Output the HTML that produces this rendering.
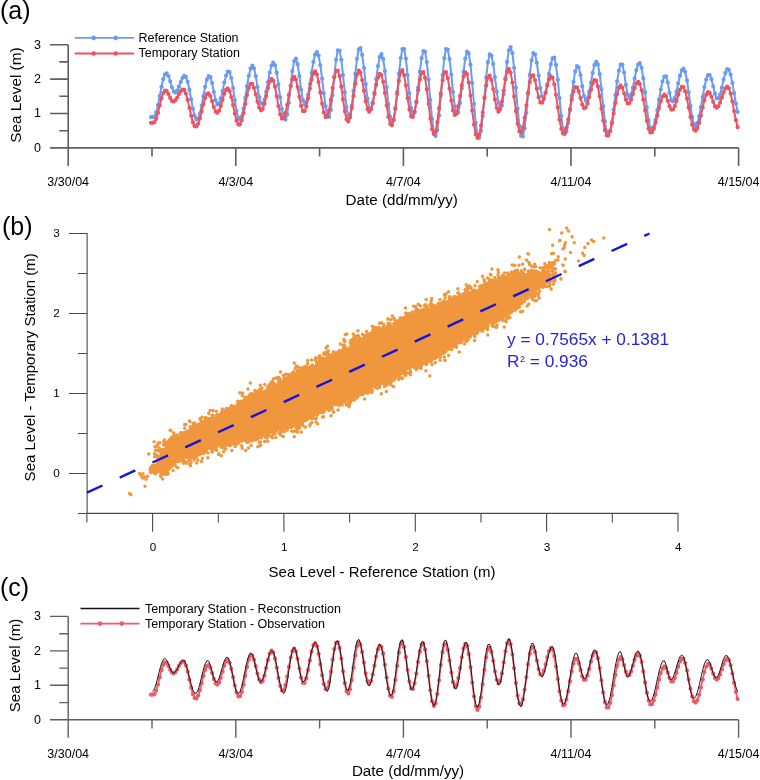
<!DOCTYPE html>
<html><head><meta charset="utf-8"><title>Sea level figure</title>
<style>html,body{margin:0;padding:0;background:#fff;overflow:hidden;}svg{display:block;font-family:"Liberation Sans",sans-serif;filter:blur(0.3px);}</style>
</head><body>
<svg width="760" height="780" viewBox="0 0 760 780" font-family="Liberation Sans, sans-serif">
<rect width="760" height="780" fill="#ffffff"/>
<text x="0" y="19.4" font-size="25" text-anchor="start" fill="#000000">(a)</text>
<path d="M68.2 44.7 V147.9 M50 147.9 H68.2 M50 113.5 H68.2 M50 79.1 H68.2 M50 44.7 H68.2 M59.3 130.7 H68.2 M59.3 96.3 H68.2 M59.3 61.9 H68.2 M68.2 147.9 H738.6 M68.2 147.9 V165.9 M152 147.9 V156.6 M235.8 147.9 V165.9 M319.6 147.9 V156.6 M403.4 147.9 V165.9 M487.2 147.9 V156.6 M571 147.9 V165.9 M654.8 147.9 V156.6 M738.6 147.9 V165.9" stroke="#5f5f5f" stroke-width="1.6" fill="none"/>
<text x="40.9" y="151.8" font-size="12.5" text-anchor="end" fill="#000000">0</text>
<text x="40.9" y="117.4" font-size="12.5" text-anchor="end" fill="#000000">1</text>
<text x="40.9" y="83" font-size="12.5" text-anchor="end" fill="#000000">2</text>
<text x="40.9" y="48.6" font-size="12.5" text-anchor="end" fill="#000000">3</text>
<text x="68.2" y="186.2" font-size="12.5" text-anchor="middle" fill="#000000">3/30/04</text>
<text x="235.8" y="186.2" font-size="12.5" text-anchor="middle" fill="#000000">4/3/04</text>
<text x="403.4" y="186.2" font-size="12.5" text-anchor="middle" fill="#000000">4/7/04</text>
<text x="571" y="186.2" font-size="12.5" text-anchor="middle" fill="#000000">4/11/04</text>
<text x="738.6" y="186.2" font-size="12.5" text-anchor="middle" fill="#000000">4/15/04</text>
<text x="0" y="0" font-size="15.3" text-anchor="middle" fill="#000000" transform="translate(21.3 95.1) rotate(-90)">Sea Level (m)</text>
<text x="345.6" y="204.7" font-size="15.2" text-anchor="start" fill="#000000">Date (dd/mm/yy)</text>
<path d="M151 117.2 152.7 117.2 154.5 116.6 156.2 112.4 158 105.2 159.7 96.1 161.5 86.9 163.2 79.2 165 74.4 166.7 73.3 168.5 76 170.2 81.3 171.9 87.3 173.7 91.5 175.4 92.5 177.2 90.6 178.9 86.7 180.7 82 182.4 78 184.2 75.9 185.9 76.8 187.7 81.8 189.4 89.8 191.2 99.4 192.9 108.7 194.6 115.8 196.4 119.3 198.1 118.7 199.9 113.8 201.6 105.8 203.4 96.2 205.1 86.8 206.9 79.6 208.6 76.1 210.4 77.1 212.1 83.1 213.8 92 215.6 100.1 217.3 104.3 219.1 103.3 220.8 98.4 222.6 90.9 224.3 82.6 226.1 75.6 227.8 71.7 229.6 72.2 231.3 78.1 233.1 88.1 234.8 100 236.5 110.8 238.3 117.9 240 119.7 241.8 116.3 243.5 108.5 245.3 97.9 247 86.3 248.8 75.9 250.5 68.6 252.3 65.7 254 68.3 255.8 76.2 257.5 87 259.2 97.1 261 103.4 262.7 104.1 264.5 99.8 266.2 91.8 268 82 269.7 72.5 271.5 65.5 273.2 62.6 275 65 276.7 72.7 278.4 84.4 280.2 97.4 281.9 109.1 283.7 117 285.4 119.6 287.2 114.6 288.9 102.5 290.7 86.5 292.4 71.2 294.2 61 295.9 58.6 297.6 64.3 299.4 76 301.1 89.5 302.9 100.2 304.6 104.5 306.4 102 308.1 94.8 309.9 84.2 311.6 72.5 313.4 61.9 315.1 54.6 316.9 52.1 318.6 55.6 320.3 65.1 322.1 78.6 323.8 93.3 325.6 106.2 327.3 114.6 329.1 116.9 330.8 110.1 332.6 95.1 334.3 76.5 336.1 59.8 337.8 50.3 339.6 50.6 341.3 59.7 343 75 344.8 92.4 346.5 107.1 348.3 115.2 350 114.5 351.8 105.7 353.5 90.9 355.3 73.9 357 58.8 358.8 49.4 360.5 48.1 362.2 54.9 364 68.1 365.7 84.1 367.5 98.6 369.2 107.8 371 109.3 372.7 103.7 374.5 92.7 376.2 79.1 378 66.1 379.7 57.1 381.4 54.2 383.2 59.1 384.9 71.2 386.7 87.5 388.4 104.1 390.2 116.9 391.9 122.8 393.7 120.2 395.4 109.1 397.2 92.2 398.9 73.8 400.7 58.1 402.4 49.1 404.1 49.1 405.9 58.6 407.6 75 409.4 93.3 411.1 108 412.9 114.8 414.6 112.3 416.4 102.4 418.1 87.6 419.9 71.5 421.6 58.2 423.4 51 425.1 51.8 426.8 62.1 428.6 79.5 430.3 100.1 432.1 119.1 433.8 132 435.6 136.1 437.3 130.1 439.1 115.6 440.8 95.7 442.6 75 444.3 58.2 446 49.1 447.8 49.7 449.5 59.1 451.3 74.6 453 91.9 454.8 106.3 456.5 113.8 458.3 112.4 460 103.1 461.8 88.3 463.5 72.1 465.2 58.7 467 51.7 468.7 53.4 470.5 64.7 472.2 83 474 104 475.7 122.8 477.5 135 479.2 137.7 481 130.9 482.7 116.2 484.5 97 486.2 77.6 487.9 62.2 489.7 54.4 491.4 55.5 493.2 63.9 494.9 77.2 496.7 91.5 498.4 103 500.2 108.3 501.9 105.4 503.7 94.2 505.4 78.1 507.1 61.9 508.9 50.3 510.6 47 512.4 53.2 514.1 67.8 515.9 87.7 517.6 108.5 519.4 125.8 521.1 135.8 522.9 136.5 524.6 128.3 526.4 113 528.1 93.8 529.8 74.9 531.6 60.3 533.3 53 535.1 54.3 536.8 62.7 538.6 75.4 540.3 88 542.1 96.3 543.8 97.6 545.6 93 547.3 84.4 549 73.9 550.8 64.3 552.5 58.3 554.3 57.6 556 65.1 557.8 79.7 559.5 98 561.3 115.8 563 128.9 564.8 134.1 566.5 131.4 568.3 123 570 110.3 571.7 95.7 573.5 81.9 575.2 71.4 577 66.1 578.7 67.3 580.5 75 582.2 86.2 584 96 585.7 100.5 587.5 98.5 589.2 91.9 591 82.5 592.7 72.8 594.4 65.2 596.2 61.8 597.9 64.4 599.7 74.2 601.4 89.2 603.2 106.2 604.9 121.4 606.7 131.6 608.4 134.7 610.2 131 611.9 122.2 613.6 109.5 615.4 95.1 617.1 81.4 618.9 70.7 620.6 64.6 622.4 64.6 624.1 72.6 625.9 84.9 627.6 95 629.4 97.8 631.1 94.6 632.9 87.5 634.6 78.6 636.3 70.2 638.1 64.5 639.8 63.1 641.6 67.8 643.3 78.2 645.1 92.4 646.8 107.4 648.6 120.2 650.3 128.2 652.1 130 653.8 126.8 655.5 119.9 657.3 110.3 659 99.6 660.8 89.5 662.5 81.4 664.3 76.7 666 76.3 667.8 82.6 669.5 92.7 671.3 100.4 673 101.5 674.8 98 676.5 91.4 678.2 83.3 680 75.7 681.7 70.3 683.5 68.5 685.2 71.8 687 80.4 688.7 92.5 690.5 105.7 692.2 117.1 694 124.4 695.7 126.1 697.4 123.1 699.2 116.4 700.9 107.2 702.7 96.9 704.4 87.1 706.2 79.5 707.9 75.2 709.7 75 711.4 79.2 713.2 86.3 714.9 93.6 716.6 98.2 718.4 98.5 720.1 94.5 721.9 87.6 723.6 79.6 725.4 72.9 727.1 69.2 728.9 69.8 730.6 74.6 732.4 82.9 734.1 93.2 735.9 103.5 737.6 111.9" stroke="#6a9bf4" stroke-width="2.0" fill="none" stroke-linejoin="round"/>
<path d="M151 117.2h0M152.7 117.2h0M154.5 116.6h0M156.2 112.4h0M158 105.2h0M159.7 96.1h0M161.5 86.9h0M163.2 79.2h0M165 74.4h0M166.7 73.3h0M168.5 76h0M170.2 81.3h0M171.9 87.3h0M173.7 91.5h0M175.4 92.5h0M177.2 90.6h0M178.9 86.7h0M180.7 82h0M182.4 78h0M184.2 75.9h0M185.9 76.8h0M187.7 81.8h0M189.4 89.8h0M191.2 99.4h0M192.9 108.7h0M194.6 115.8h0M196.4 119.3h0M198.1 118.7h0M199.9 113.8h0M201.6 105.8h0M203.4 96.2h0M205.1 86.8h0M206.9 79.6h0M208.6 76.1h0M210.4 77.1h0M212.1 83.1h0M213.8 92h0M215.6 100.1h0M217.3 104.3h0M219.1 103.3h0M220.8 98.4h0M222.6 90.9h0M224.3 82.6h0M226.1 75.6h0M227.8 71.7h0M229.6 72.2h0M231.3 78.1h0M233.1 88.1h0M234.8 100h0M236.5 110.8h0M238.3 117.9h0M240 119.7h0M241.8 116.3h0M243.5 108.5h0M245.3 97.9h0M247 86.3h0M248.8 75.9h0M250.5 68.6h0M252.3 65.7h0M254 68.3h0M255.8 76.2h0M257.5 87h0M259.2 97.1h0M261 103.4h0M262.7 104.1h0M264.5 99.8h0M266.2 91.8h0M268 82h0M269.7 72.5h0M271.5 65.5h0M273.2 62.6h0M275 65h0M276.7 72.7h0M278.4 84.4h0M280.2 97.4h0M281.9 109.1h0M283.7 117h0M285.4 119.6h0M287.2 114.6h0M288.9 102.5h0M290.7 86.5h0M292.4 71.2h0M294.2 61h0M295.9 58.6h0M297.6 64.3h0M299.4 76h0M301.1 89.5h0M302.9 100.2h0M304.6 104.5h0M306.4 102h0M308.1 94.8h0M309.9 84.2h0M311.6 72.5h0M313.4 61.9h0M315.1 54.6h0M316.9 52.1h0M318.6 55.6h0M320.3 65.1h0M322.1 78.6h0M323.8 93.3h0M325.6 106.2h0M327.3 114.6h0M329.1 116.9h0M330.8 110.1h0M332.6 95.1h0M334.3 76.5h0M336.1 59.8h0M337.8 50.3h0M339.6 50.6h0M341.3 59.7h0M343 75h0M344.8 92.4h0M346.5 107.1h0M348.3 115.2h0M350 114.5h0M351.8 105.7h0M353.5 90.9h0M355.3 73.9h0M357 58.8h0M358.8 49.4h0M360.5 48.1h0M362.2 54.9h0M364 68.1h0M365.7 84.1h0M367.5 98.6h0M369.2 107.8h0M371 109.3h0M372.7 103.7h0M374.5 92.7h0M376.2 79.1h0M378 66.1h0M379.7 57.1h0M381.4 54.2h0M383.2 59.1h0M384.9 71.2h0M386.7 87.5h0M388.4 104.1h0M390.2 116.9h0M391.9 122.8h0M393.7 120.2h0M395.4 109.1h0M397.2 92.2h0M398.9 73.8h0M400.7 58.1h0M402.4 49.1h0M404.1 49.1h0M405.9 58.6h0M407.6 75h0M409.4 93.3h0M411.1 108h0M412.9 114.8h0M414.6 112.3h0M416.4 102.4h0M418.1 87.6h0M419.9 71.5h0M421.6 58.2h0M423.4 51h0M425.1 51.8h0M426.8 62.1h0M428.6 79.5h0M430.3 100.1h0M432.1 119.1h0M433.8 132h0M435.6 136.1h0M437.3 130.1h0M439.1 115.6h0M440.8 95.7h0M442.6 75h0M444.3 58.2h0M446 49.1h0M447.8 49.7h0M449.5 59.1h0M451.3 74.6h0M453 91.9h0M454.8 106.3h0M456.5 113.8h0M458.3 112.4h0M460 103.1h0M461.8 88.3h0M463.5 72.1h0M465.2 58.7h0M467 51.7h0M468.7 53.4h0M470.5 64.7h0M472.2 83h0M474 104h0M475.7 122.8h0M477.5 135h0M479.2 137.7h0M481 130.9h0M482.7 116.2h0M484.5 97h0M486.2 77.6h0M487.9 62.2h0M489.7 54.4h0M491.4 55.5h0M493.2 63.9h0M494.9 77.2h0M496.7 91.5h0M498.4 103h0M500.2 108.3h0M501.9 105.4h0M503.7 94.2h0M505.4 78.1h0M507.1 61.9h0M508.9 50.3h0M510.6 47h0M512.4 53.2h0M514.1 67.8h0M515.9 87.7h0M517.6 108.5h0M519.4 125.8h0M521.1 135.8h0M522.9 136.5h0M524.6 128.3h0M526.4 113h0M528.1 93.8h0M529.8 74.9h0M531.6 60.3h0M533.3 53h0M535.1 54.3h0M536.8 62.7h0M538.6 75.4h0M540.3 88h0M542.1 96.3h0M543.8 97.6h0M545.6 93h0M547.3 84.4h0M549 73.9h0M550.8 64.3h0M552.5 58.3h0M554.3 57.6h0M556 65.1h0M557.8 79.7h0M559.5 98h0M561.3 115.8h0M563 128.9h0M564.8 134.1h0M566.5 131.4h0M568.3 123h0M570 110.3h0M571.7 95.7h0M573.5 81.9h0M575.2 71.4h0M577 66.1h0M578.7 67.3h0M580.5 75h0M582.2 86.2h0M584 96h0M585.7 100.5h0M587.5 98.5h0M589.2 91.9h0M591 82.5h0M592.7 72.8h0M594.4 65.2h0M596.2 61.8h0M597.9 64.4h0M599.7 74.2h0M601.4 89.2h0M603.2 106.2h0M604.9 121.4h0M606.7 131.6h0M608.4 134.7h0M610.2 131h0M611.9 122.2h0M613.6 109.5h0M615.4 95.1h0M617.1 81.4h0M618.9 70.7h0M620.6 64.6h0M622.4 64.6h0M624.1 72.6h0M625.9 84.9h0M627.6 95h0M629.4 97.8h0M631.1 94.6h0M632.9 87.5h0M634.6 78.6h0M636.3 70.2h0M638.1 64.5h0M639.8 63.1h0M641.6 67.8h0M643.3 78.2h0M645.1 92.4h0M646.8 107.4h0M648.6 120.2h0M650.3 128.2h0M652.1 130h0M653.8 126.8h0M655.5 119.9h0M657.3 110.3h0M659 99.6h0M660.8 89.5h0M662.5 81.4h0M664.3 76.7h0M666 76.3h0M667.8 82.6h0M669.5 92.7h0M671.3 100.4h0M673 101.5h0M674.8 98h0M676.5 91.4h0M678.2 83.3h0M680 75.7h0M681.7 70.3h0M683.5 68.5h0M685.2 71.8h0M687 80.4h0M688.7 92.5h0M690.5 105.7h0M692.2 117.1h0M694 124.4h0M695.7 126.1h0M697.4 123.1h0M699.2 116.4h0M700.9 107.2h0M702.7 96.9h0M704.4 87.1h0M706.2 79.5h0M707.9 75.2h0M709.7 75h0M711.4 79.2h0M713.2 86.3h0M714.9 93.6h0M716.6 98.2h0M718.4 98.5h0M720.1 94.5h0M721.9 87.6h0M723.6 79.6h0M725.4 72.9h0M727.1 69.2h0M728.9 69.8h0M730.6 74.6h0M732.4 82.9h0M734.1 93.2h0M735.9 103.5h0M737.6 111.9h0" stroke="#6a9bf4" stroke-width="4.2" stroke-linecap="round" fill="none"/>
<path d="M151 122.8 152.7 122.8 154.5 122.2 156.2 118.8 158 112.7 159.7 105.4 161.5 98.3 163.2 93 165 90.5 166.7 91.1 168.5 94.1 170.2 97.9 171.9 100.8 173.7 101.6 175.4 100.2 177.2 97.5 178.9 94.1 180.7 91.2 182.4 89.5 184.2 89.9 185.9 93.5 187.7 99.9 189.4 107.9 191.2 115.8 192.9 122.3 194.6 126.1 196.4 126.5 198.1 123.8 199.9 118.4 201.6 111.4 203.4 104.2 205.1 98.1 206.9 94.2 208.6 93.4 210.4 96 212.1 101.2 213.8 107.1 215.6 111.5 217.3 112.8 219.1 110.7 220.8 105.9 222.6 99.8 224.3 93.8 226.1 89.7 227.8 88.4 229.6 91 231.3 97 233.1 105.2 234.8 113.7 236.5 120.6 238.3 124.5 240 124.3 241.8 120.2 243.5 113 245.3 104 247 95.1 248.8 87.9 250.5 83.9 252.3 83.9 254 87.8 255.8 94.3 257.5 101.7 259.2 107.6 261 110.3 262.7 109 264.5 103.8 266.2 96.1 268 88.1 269.7 81.8 271.5 78.9 273.2 80.5 275 86.7 276.7 96 278.4 106 280.2 114.3 281.9 118.6 283.7 118.1 285.4 113.1 287.2 104.8 288.9 94.9 290.7 85.7 292.4 79.2 294.2 76.8 295.9 79.5 297.6 87 299.4 96.8 301.1 105.8 302.9 111.1 304.6 111 306.4 106.4 308.1 98.2 309.9 88.6 311.6 79.6 313.4 73.4 315.1 71.3 316.9 74.3 318.6 82 320.3 92.5 322.1 103.5 323.8 112.4 325.6 117.1 327.3 116.5 329.1 110.3 330.8 99.8 332.6 87.9 334.3 77.4 336.1 71.1 337.8 70.5 339.6 76.2 341.3 86.7 343 99.4 344.8 111.3 346.5 119.3 348.3 121.5 350 117.4 351.8 108.2 353.5 95.9 355.3 83.7 357 74.5 358.8 70.6 360.5 72.7 362.2 80.1 364 90.7 365.7 101.4 367.5 109.1 369.2 111.7 371 109.1 372.7 102.7 374.5 93.9 376.2 84.8 378 77.6 379.7 73.9 381.4 75 383.2 81.8 384.9 93 386.7 105.6 388.4 116.9 390.2 124 391.9 125.2 393.7 119.4 395.4 108.1 397.2 94 398.9 80.9 400.7 72.2 402.4 70.2 404.1 75.1 405.9 85.4 407.6 98.1 409.4 109.6 411.1 116.5 412.9 117 414.6 111.6 416.4 101.8 418.1 90.2 419.9 79.7 421.6 73 423.4 72 425.1 77.8 426.8 89.3 428.6 104 430.3 118.5 432.1 129.3 433.8 134 435.6 131.5 437.3 122.2 439.1 108.4 440.8 93.3 442.6 80.4 444.3 72.8 446 72.2 447.8 78.2 449.5 88.7 451.3 100.7 453 110.4 454.8 114.9 456.5 113.1 458.3 106.2 460 96.1 461.8 85.2 463.5 76.6 465.2 72.4 467 74.1 468.7 82.4 470.5 95.5 472.2 110.6 474 124.6 475.7 134.4 477.5 138 479.2 134.8 481 125.6 482.7 112.5 484.5 98.1 486.2 85.6 487.9 77.5 489.7 75.7 491.4 80 493.2 89 494.9 99.5 496.7 108 498.4 111.7 500.2 109.3 501.9 101.5 503.7 90.5 505.4 79.5 507.1 71.5 508.9 68.8 510.6 72.6 512.4 82.5 514.1 96.4 515.9 111.2 517.6 123.7 519.4 131.3 521.1 132.4 522.9 127.5 524.6 117.8 526.4 105.3 528.1 92.5 529.8 82 531.6 75.9 533.3 75.4 535.1 80.3 536.8 88.7 538.6 97.2 540.3 102.5 542.1 102.7 543.8 99 545.6 92.6 547.3 85.4 549 79.4 550.8 76.4 552.5 77.6 554.3 84.2 556 94.8 557.8 107.4 559.5 119.5 561.3 128.8 563 133.4 564.8 132.7 566.5 127.7 568.3 119.4 570 109.3 571.7 99.4 573.5 91.6 575.2 87.2 577 87.3 578.7 91.4 580.5 98.1 582.2 104.5 584 108.1 585.7 107.6 587.5 103.6 589.2 97 591 89.7 592.7 83.6 594.4 80.2 596.2 80.7 597.9 86.4 599.7 96.3 601.4 108.5 603.2 120.6 604.9 130.2 606.7 135.5 608.4 135.5 610.2 131.2 611.9 123.4 613.6 113.5 615.4 103.1 617.1 94 618.9 87.7 620.6 85.4 622.4 87.6 624.1 93.3 625.9 99.7 627.6 103.5 629.4 103.1 631.1 99.5 632.9 94 634.6 88.1 636.3 83.6 638.1 81.8 639.8 83.9 641.6 90.2 643.3 99.7 645.1 110.6 646.8 120.9 648.6 128.7 650.3 132.5 652.1 132.1 653.8 128.7 655.5 122.8 657.3 115.5 659 107.9 660.8 101.2 662.5 96.5 664.3 94.6 666 96.1 667.8 100.8 669.5 106.2 671.3 109.6 673 109.5 674.8 106.2 676.5 100.9 678.2 94.8 680 89.7 681.7 86.8 683.5 87.1 685.2 91.3 687 98.5 688.7 107.7 690.5 116.9 692.2 124.7 694 129.6 695.7 130.7 697.4 128.3 699.2 122.9 700.9 115.6 702.7 107.5 704.4 100.2 706.2 94.7 707.9 92.1 709.7 92.9 711.4 96.7 713.2 101.9 714.9 106.2 716.6 107.8 718.4 106.4 720.1 102.7 721.9 97.6 723.6 92.4 725.4 88.5 727.1 86.7 728.9 88.2 730.6 93.5 732.4 101.6 734.1 111.1 735.9 120.2 737.6 127.2" stroke="#ec5462" stroke-width="2.0" fill="none" stroke-linejoin="round"/>
<path d="M151 122.8h0M152.7 122.8h0M154.5 122.2h0M156.2 118.8h0M158 112.7h0M159.7 105.4h0M161.5 98.3h0M163.2 93h0M165 90.5h0M166.7 91.1h0M168.5 94.1h0M170.2 97.9h0M171.9 100.8h0M173.7 101.6h0M175.4 100.2h0M177.2 97.5h0M178.9 94.1h0M180.7 91.2h0M182.4 89.5h0M184.2 89.9h0M185.9 93.5h0M187.7 99.9h0M189.4 107.9h0M191.2 115.8h0M192.9 122.3h0M194.6 126.1h0M196.4 126.5h0M198.1 123.8h0M199.9 118.4h0M201.6 111.4h0M203.4 104.2h0M205.1 98.1h0M206.9 94.2h0M208.6 93.4h0M210.4 96h0M212.1 101.2h0M213.8 107.1h0M215.6 111.5h0M217.3 112.8h0M219.1 110.7h0M220.8 105.9h0M222.6 99.8h0M224.3 93.8h0M226.1 89.7h0M227.8 88.4h0M229.6 91h0M231.3 97h0M233.1 105.2h0M234.8 113.7h0M236.5 120.6h0M238.3 124.5h0M240 124.3h0M241.8 120.2h0M243.5 113h0M245.3 104h0M247 95.1h0M248.8 87.9h0M250.5 83.9h0M252.3 83.9h0M254 87.8h0M255.8 94.3h0M257.5 101.7h0M259.2 107.6h0M261 110.3h0M262.7 109h0M264.5 103.8h0M266.2 96.1h0M268 88.1h0M269.7 81.8h0M271.5 78.9h0M273.2 80.5h0M275 86.7h0M276.7 96h0M278.4 106h0M280.2 114.3h0M281.9 118.6h0M283.7 118.1h0M285.4 113.1h0M287.2 104.8h0M288.9 94.9h0M290.7 85.7h0M292.4 79.2h0M294.2 76.8h0M295.9 79.5h0M297.6 87h0M299.4 96.8h0M301.1 105.8h0M302.9 111.1h0M304.6 111h0M306.4 106.4h0M308.1 98.2h0M309.9 88.6h0M311.6 79.6h0M313.4 73.4h0M315.1 71.3h0M316.9 74.3h0M318.6 82h0M320.3 92.5h0M322.1 103.5h0M323.8 112.4h0M325.6 117.1h0M327.3 116.5h0M329.1 110.3h0M330.8 99.8h0M332.6 87.9h0M334.3 77.4h0M336.1 71.1h0M337.8 70.5h0M339.6 76.2h0M341.3 86.7h0M343 99.4h0M344.8 111.3h0M346.5 119.3h0M348.3 121.5h0M350 117.4h0M351.8 108.2h0M353.5 95.9h0M355.3 83.7h0M357 74.5h0M358.8 70.6h0M360.5 72.7h0M362.2 80.1h0M364 90.7h0M365.7 101.4h0M367.5 109.1h0M369.2 111.7h0M371 109.1h0M372.7 102.7h0M374.5 93.9h0M376.2 84.8h0M378 77.6h0M379.7 73.9h0M381.4 75h0M383.2 81.8h0M384.9 93h0M386.7 105.6h0M388.4 116.9h0M390.2 124h0M391.9 125.2h0M393.7 119.4h0M395.4 108.1h0M397.2 94h0M398.9 80.9h0M400.7 72.2h0M402.4 70.2h0M404.1 75.1h0M405.9 85.4h0M407.6 98.1h0M409.4 109.6h0M411.1 116.5h0M412.9 117h0M414.6 111.6h0M416.4 101.8h0M418.1 90.2h0M419.9 79.7h0M421.6 73h0M423.4 72h0M425.1 77.8h0M426.8 89.3h0M428.6 104h0M430.3 118.5h0M432.1 129.3h0M433.8 134h0M435.6 131.5h0M437.3 122.2h0M439.1 108.4h0M440.8 93.3h0M442.6 80.4h0M444.3 72.8h0M446 72.2h0M447.8 78.2h0M449.5 88.7h0M451.3 100.7h0M453 110.4h0M454.8 114.9h0M456.5 113.1h0M458.3 106.2h0M460 96.1h0M461.8 85.2h0M463.5 76.6h0M465.2 72.4h0M467 74.1h0M468.7 82.4h0M470.5 95.5h0M472.2 110.6h0M474 124.6h0M475.7 134.4h0M477.5 138h0M479.2 134.8h0M481 125.6h0M482.7 112.5h0M484.5 98.1h0M486.2 85.6h0M487.9 77.5h0M489.7 75.7h0M491.4 80h0M493.2 89h0M494.9 99.5h0M496.7 108h0M498.4 111.7h0M500.2 109.3h0M501.9 101.5h0M503.7 90.5h0M505.4 79.5h0M507.1 71.5h0M508.9 68.8h0M510.6 72.6h0M512.4 82.5h0M514.1 96.4h0M515.9 111.2h0M517.6 123.7h0M519.4 131.3h0M521.1 132.4h0M522.9 127.5h0M524.6 117.8h0M526.4 105.3h0M528.1 92.5h0M529.8 82h0M531.6 75.9h0M533.3 75.4h0M535.1 80.3h0M536.8 88.7h0M538.6 97.2h0M540.3 102.5h0M542.1 102.7h0M543.8 99h0M545.6 92.6h0M547.3 85.4h0M549 79.4h0M550.8 76.4h0M552.5 77.6h0M554.3 84.2h0M556 94.8h0M557.8 107.4h0M559.5 119.5h0M561.3 128.8h0M563 133.4h0M564.8 132.7h0M566.5 127.7h0M568.3 119.4h0M570 109.3h0M571.7 99.4h0M573.5 91.6h0M575.2 87.2h0M577 87.3h0M578.7 91.4h0M580.5 98.1h0M582.2 104.5h0M584 108.1h0M585.7 107.6h0M587.5 103.6h0M589.2 97h0M591 89.7h0M592.7 83.6h0M594.4 80.2h0M596.2 80.7h0M597.9 86.4h0M599.7 96.3h0M601.4 108.5h0M603.2 120.6h0M604.9 130.2h0M606.7 135.5h0M608.4 135.5h0M610.2 131.2h0M611.9 123.4h0M613.6 113.5h0M615.4 103.1h0M617.1 94h0M618.9 87.7h0M620.6 85.4h0M622.4 87.6h0M624.1 93.3h0M625.9 99.7h0M627.6 103.5h0M629.4 103.1h0M631.1 99.5h0M632.9 94h0M634.6 88.1h0M636.3 83.6h0M638.1 81.8h0M639.8 83.9h0M641.6 90.2h0M643.3 99.7h0M645.1 110.6h0M646.8 120.9h0M648.6 128.7h0M650.3 132.5h0M652.1 132.1h0M653.8 128.7h0M655.5 122.8h0M657.3 115.5h0M659 107.9h0M660.8 101.2h0M662.5 96.5h0M664.3 94.6h0M666 96.1h0M667.8 100.8h0M669.5 106.2h0M671.3 109.6h0M673 109.5h0M674.8 106.2h0M676.5 100.9h0M678.2 94.8h0M680 89.7h0M681.7 86.8h0M683.5 87.1h0M685.2 91.3h0M687 98.5h0M688.7 107.7h0M690.5 116.9h0M692.2 124.7h0M694 129.6h0M695.7 130.7h0M697.4 128.3h0M699.2 122.9h0M700.9 115.6h0M702.7 107.5h0M704.4 100.2h0M706.2 94.7h0M707.9 92.1h0M709.7 92.9h0M711.4 96.7h0M713.2 101.9h0M714.9 106.2h0M716.6 107.8h0M718.4 106.4h0M720.1 102.7h0M721.9 97.6h0M723.6 92.4h0M725.4 88.5h0M727.1 86.7h0M728.9 88.2h0M730.6 93.5h0M732.4 101.6h0M734.1 111.1h0M735.9 120.2h0M737.6 127.2h0" stroke="#ec5462" stroke-width="4.2" stroke-linecap="round" fill="none"/>
<path d="M74.7 37.9H134" stroke="#6a9bf4" stroke-width="1.8"/><path d="M93.7 37.9h0M115.7 37.9h0" stroke="#6a9bf4" stroke-width="4.6" stroke-linecap="round"/>
<path d="M74.7 53.5H134" stroke="#ec5462" stroke-width="1.8"/><path d="M93.7 53.5h0M115.7 53.5h0" stroke="#ec5462" stroke-width="4.6" stroke-linecap="round"/>
<text x="138.5" y="41.6" font-size="12.5" text-anchor="start" fill="#000000">Reference Station</text>
<text x="138.5" y="57.2" font-size="12.5" text-anchor="start" fill="#000000">Temporary Station</text>
<text x="2" y="234.9" font-size="25" text-anchor="start" fill="#000000">(b)</text>
<path d="M87.1 233 V513.4 H678.5 M69 473.5 H87.1 M69 393.5 H87.1 M69 313.5 H87.1 M69 233.5 H87.1 M78 513.5 H87.1 M78 433.5 H87.1 M78 353.5 H87.1 M78 273.5 H87.1 M152.6 513.4 V531.8 M283.9 513.4 V531.8 M415.3 513.4 V531.8 M546.6 513.4 V531.8 M678 513.4 V531.8 M86.9 513.4 V522.5 M218.3 513.4 V522.5 M349.6 513.4 V522.5 M481 513.4 V522.5 M612.3 513.4 V522.5" stroke="#4a4a4a" stroke-width="1.1" fill="none"/>
<text x="59.8" y="476.5" font-size="11.7" text-anchor="end" fill="#000000">0</text>
<text x="59.8" y="396.5" font-size="11.7" text-anchor="end" fill="#000000">1</text>
<text x="59.8" y="316.5" font-size="11.7" text-anchor="end" fill="#000000">2</text>
<text x="59.8" y="236.5" font-size="11.7" text-anchor="end" fill="#000000">3</text>
<text x="152.9" y="551.2" font-size="11.7" text-anchor="middle" fill="#000000">0</text>
<text x="284.2" y="551.2" font-size="11.7" text-anchor="middle" fill="#000000">1</text>
<text x="415.6" y="551.2" font-size="11.7" text-anchor="middle" fill="#000000">2</text>
<text x="546.9" y="551.2" font-size="11.7" text-anchor="middle" fill="#000000">3</text>
<text x="678.3" y="551.2" font-size="11.7" text-anchor="middle" fill="#000000">4</text>
<text x="382" y="576.7" font-size="15" text-anchor="middle" fill="#000000">Sea Level - Reference Station (m)</text>
<text x="0" y="0" font-size="15" text-anchor="middle" fill="#000000" transform="translate(34.5 367.3) rotate(-90)">Sea Level - Temporary Station (m)</text>
<path d="M150 470.2 L156 466.2 L163 456.2 L168 441.2 L173 439.2 L186 434.2 L199.5 424.2 L212.6 417.7 L225.8 412.2 L239 403.2 L252 394.7 L259.5 392.1 L272.6 387.1 L285.8 379.5 L299 372.9 L312.1 366.3 L324 359.7 L337 353.2 L361.6 339.2 L393 324.7 L410 314.5 L425 309.7 L439 305.3 L456 298.2 L470 294 L483.2 286.3 L496.3 279.6 L509.5 275.7 L522.6 273.7 L535.8 272.8 L543.7 276.1 L546 279.2 L546 280.8 L543.7 285.5 L535.8 291.3 L522.6 300.8 L509.5 312.4 L496.3 320.8 L483.2 327.6 L470 335.6 L456 343.8 L439 355.8 L425 361.8 L410 368.8 L393 377.8 L361.6 393.3 L337 403.8 L324 409.8 L312.1 415.4 L299 423.3 L285.8 426.3 L272.6 430.8 L259.5 436.8 L252 439.3 L239 441.8 L225.8 444.3 L212.6 446.8 L199.5 453.8 L186 457.8 L173 462.8 L168 469.8 L163 471.8 L156 471.8 L150 470.8 Z" fill="#f0963c"/>
<path d="M278.2 387.3h0M362.2 340.2h0M164.8 454h0M318.1 409.9h0M398.5 373.1h0M536.6 271.2h0M207.1 420.1h0M221.6 443.2h0M366.9 339.5h0M419.4 312.4h0M329.5 357.3h0M246.7 440.9h0M438.9 303.9h0M315.6 412.4h0M165.5 469.9h0M496.7 280.3h0M379.6 323.3h0M337.7 403.2h0M406.3 372.7h0M302.8 419.5h0M216.5 416h0M201.2 422.8h0M181.9 435.2h0M474.4 331.2h0M292.1 426.4h0M219.8 416.1h0M383.3 330.9h0M296.2 427.7h0M354.1 393h0M506.2 319.2h0M305.4 370.3h0M174.7 441.6h0M284.7 383.2h0M190.2 430.5h0M393.2 326.7h0M294.2 363.1h0M334.5 357.7h0M285.7 378h0M159.1 468.7h0M365.1 336.5h0M491.9 321.1h0M216.1 446.2h0M280.5 372.1h0M487.6 329.5h0M239.8 438h0M161.1 459.3h0M528.8 262.3h0M528.2 276h0M227.9 410.1h0M482.8 286.3h0M183.6 463.3h0M447.1 301.8h0M281.7 430h0M308.9 414.4h0M200.3 419h0M207.9 452.9h0M288.8 421.9h0M534.5 293.1h0M321.8 412.6h0M249.7 397.1h0M252.7 393.7h0M290.1 376.6h0M316.6 412.2h0M357.3 344.5h0M151.6 469.6h0M437.2 355.4h0M370 388.2h0M248.4 398.3h0M372.4 390.4h0M392.6 377.7h0M329.1 408.3h0M426.9 362.9h0M371.6 389.9h0M198.2 427.8h0M179 461.2h0M211.2 444.5h0M499.6 319.7h0M307.7 363.4h0M213.9 419.2h0M227.5 414.7h0M369.4 337.7h0M397.1 376.8h0M462.2 337.7h0M165.7 467.6h0M317.2 414.9h0M209.1 448.3h0M185.4 436.1h0M178.7 460.8h0M183.2 459.4h0M329.7 356h0M256.1 395.9h0M193.3 431.6h0M273.5 388.9h0M348 350.6h0M249.2 397.6h0M225 411.1h0M474.3 291.1h0M305.7 420.4h0M285.7 425.7h0M310.3 370.4h0M178 457.9h0M183.5 462.4h0M261.6 392.8h0M212.4 416.8h0M535.2 292.8h0M272.6 389h0M338 402.1h0M152 470.7h0M166.5 448.3h0M381.9 382.8h0M433.5 356h0M540 275.1h0M167.3 473.4h0M440.6 353.5h0M349.7 403.4h0M381.3 383.2h0M241.1 403.9h0M191.5 455.5h0M398 371.4h0M465.9 336.9h0M411.1 316.7h0M179.5 439.5h0M443 351.1h0M339.7 401.9h0M404.5 320.3h0M444.3 306.8h0M174 439.1h0M417.6 313.6h0M334.7 352.7h0M537.3 288.7h0M474.7 330.3h0M233.1 442h0M206.1 451.8h0M474.8 336.6h0M241.6 437.6h0M151.4 471.5h0M205.7 420.7h0M150.7 472.4h0M516.9 307.8h0M297.4 370.5h0M292.8 379.5h0M190.3 457.4h0M248.7 399.7h0M297.8 428.4h0M399.8 377.1h0M435 308.1h0M448.1 345.9h0M517 276.6h0M267.9 434.8h0M409.8 316.5h0M216.3 415.4h0M346.8 334h0M328.2 361h0M285.4 382.2h0M375.6 384.7h0M313.9 412.4h0M174.6 437.1h0M349.3 400.3h0M257.3 394.4h0M527.8 298.3h0M162.8 474.4h0M382.5 328.7h0M476.9 333.2h0M193.2 429.3h0M522.8 300.7h0M331.1 406.6h0M242.1 438.9h0M200.7 423.9h0M194.4 428.9h0M303.7 374.3h0M269.4 384.8h0M500 281.1h0M530.4 291.5h0M347.3 396.9h0M414.3 363.2h0M283.9 383.4h0M465.6 335.4h0M534.1 271.1h0M237.7 443h0M346.3 349.6h0M413.5 365.4h0M234.3 439.1h0M173.8 433h0M440.2 357.1h0M223.5 441.1h0M413.1 315.6h0M217 417.9h0M528.4 271.6h0M291.2 427.5h0M169.5 439.8h0M226.4 410.5h0M312.7 411.5h0M163.8 451.9h0M445.9 348.5h0M529.2 295.8h0M275.3 385.6h0M512.9 310.6h0M242.6 392.9h0M303.1 372.2h0M517.5 270.3h0M475.8 329.9h0M276.5 388.2h0M228.1 440.4h0M163.4 472.7h0M499.9 315.2h0M188.2 434.1h0M242.7 401.2h0M446.2 347.5h0M483 288.4h0M442.3 306.5h0M210.7 445.6h0M306.8 415.9h0M470.1 337h0M338 410h0M166 450.1h0M535.3 293.9h0M493 281.2h0M524.5 274.3h0M236.2 407.9h0M250.9 436.7h0M154.5 470.1h0M273.6 387.6h0M175.1 439.5h0M403.1 319h0M312.3 365.2h0M273.7 428.7h0M492.2 320.1h0M438.3 304.8h0M317.8 413.3h0M332.5 356.5h0M403.7 371.4h0M296.9 421.4h0M356.4 394.2h0M468.7 333.2h0M523.5 296.6h0M516.8 271.3h0M476.5 292.9h0M310.2 418.2h0M236.4 406.9h0M198.7 424.1h0M166.3 466.9h0M481.9 288.1h0M398.3 322.4h0M318.6 410.7h0M159.3 469.2h0M452.4 343.5h0M337.4 354.6h0M186.3 437.6h0M402 319.2h0M352.5 346.3h0M526.5 260h0M439.9 356.3h0M344.8 402.1h0M462.2 338.1h0M449.4 299h0M473 291.5h0M232.5 409.8h0M164.6 450.6h0M419.2 364.7h0M195.6 453h0M495.7 321.7h0M191.4 454.4h0M465.9 292.1h0M292.7 421.8h0M444.5 301.2h0M403.1 372h0M273.8 389.5h0M394 323.4h0M202.3 426.5h0M151 471.5h0M238.8 439.1h0M397.1 321.4h0M246.5 398.9h0M495 319h0M154.6 469.5h0M405.7 313h0M248.4 438.8h0M310.8 366.9h0M154.9 473.2h0M229 443.1h0M472.1 295.1h0M169.2 467.9h0M152.5 469.7h0M443.7 306.6h0M242 401.3h0M425.3 359.2h0M369.3 336.8h0M255.1 440h0M498.5 281.6h0M444.6 349.7h0M498.5 278.2h0M399.8 375.3h0M335.9 404.8h0M323.1 407.9h0M233.9 443.5h0M207.3 419.5h0M286.6 382.7h0M424.3 362h0M176 461.9h0M474.5 333.4h0M512.1 307.3h0M194.3 423.1h0M401.1 371.1h0M189.6 434.3h0M276.4 387.4h0M261.9 433.5h0M531.7 297.5h0M162.3 457.2h0M287.3 423.2h0M491.4 280.5h0M150.5 468.8h0M151.7 468.9h0M223.1 413h0M253.2 436.2h0M427 309.7h0M182 459.5h0M398.7 323.1h0M502.6 276.5h0M231.6 405.5h0M300.2 421.1h0M360.5 393.2h0M288 378h0M412.2 366.2h0M456.3 342.1h0M500.5 280.6h0M428.5 357.3h0M248 400.3h0M279.9 378.8h0M190.3 454.6h0M539.6 286.9h0M227.7 441.2h0M303.8 370.3h0M424.6 360.5h0M206.2 450.1h0M509.6 275.7h0M316.8 363.1h0M456.5 347.2h0M404 318.7h0M188.8 432.4h0M399.3 322.4h0M396.1 322h0M222.5 443.1h0M344 399.7h0M213.7 449.4h0M190 456.4h0M352.8 399.9h0M312.5 414.8h0M305.4 420.5h0M290.8 378.8h0M155.3 467h0M289.4 377.8h0M522.2 301.4h0M305.2 369.7h0M470.6 334.3h0M239.5 441.1h0M474.2 330.7h0M367.1 334.5h0M486.9 287h0M318.7 362.8h0M261.4 392.8h0M319.7 409.8h0M517.8 305.4h0M508.7 313.3h0M400.7 319.1h0M409.8 317.7h0M242.5 438.1h0M508 314h0M390.9 379.5h0M462.1 339.9h0M360.2 394.5h0M369.8 338.5h0M345.3 351.6h0M344.6 348.4h0M152.6 470.2h0M413.5 365.5h0M530.4 273.8h0M161.3 472.7h0M280.9 426.6h0M505.4 277.6h0M284.1 425.5h0M358.1 393.2h0M317.3 414.9h0M477.8 291.9h0M350.5 398.2h0M281 383.1h0M401.4 373.2h0M500.7 315.7h0M152.5 465.3h0M410.6 371.8h0M394.2 376.3h0M419.7 312.9h0M452 303.5h0M456.7 341.4h0M475.8 329.6h0M269.6 389.9h0M404.1 370.9h0M165.6 445.3h0M513.8 276.9h0M384.4 384.7h0M313.3 368.4h0M210.1 419.3h0M198.2 454.7h0M201.1 426h0M440.5 304.6h0M432.6 355.2h0M398.9 375.5h0M250.6 435.8h0M155.8 473.2h0M273.2 431.1h0M342.6 350.9h0M323.7 410.1h0M293.9 422.8h0M302.8 425.6h0M374.5 332.2h0M428.5 359.5h0M537.1 288.1h0M319.7 411.4h0M388.3 382.1h0M150.7 470.6h0M473.1 334.1h0M471.5 332.3h0M487.1 326.4h0M287.4 378.5h0M229.4 445.4h0M390.3 376.4h0M250.9 438h0M184.7 455.7h0M379.5 387.3h0M338.7 400.2h0M221.6 444.1h0M309.4 413.5h0M544.9 278.3h0M461.8 298.5h0M355.7 341.4h0M493 283.8h0M458.6 293h0M474.3 329.4h0M229.6 413.2h0M370.7 389.7h0M510.3 277.4h0M197.5 453.4h0M403.7 370.3h0M327.5 346.2h0M237.8 406.1h0M507.5 315h0M461.4 341.8h0M172.1 438.7h0M418 311.9h0M191.7 433.1h0M340.6 354.2h0M418.3 314.7h0M164.3 472.2h0M493.2 320.8h0M188.4 460.5h0M329.1 354.5h0M398.8 324.8h0M432.6 359.1h0M255.5 395.9h0M482.5 288.1h0M276 430.7h0M172.5 460.7h0M339.1 354.8h0M294.3 431.3h0M188.6 430.9h0M437.7 304.5h0M469.6 297.9h0M479.6 328.2h0M511.1 278.6h0M221.3 442.3h0M181.4 437.3h0M258.5 392.7h0M471.4 331.3h0M440.2 308.3h0M471 287.8h0M345.2 345.9h0M495.3 279.7h0M295.4 375.5h0M151.8 469.9h0M197.8 459.9h0M277.1 429.2h0M174.2 465h0M353.3 393.2h0M533.1 276.3h0M249.2 436.5h0M426.8 309.9h0M378.3 381.8h0M494.3 318.6h0M345.5 397h0M310.6 366.5h0M208.3 446.1h0M477.1 329.6h0M482.5 328.9h0M457.7 299.8h0M322.5 417.1h0M472.8 332.7h0M529.3 294.3h0M400.5 323.6h0M321.5 407.9h0M534 296h0M470.5 336.6h0M404.1 320.5h0M364.7 389.2h0M356 340.4h0M270.9 430.7h0M528.6 295h0M361.4 342.5h0M266.3 392.1h0M184.8 461.5h0M375.8 386h0M332.5 404.4h0M273 388.1h0M301.7 419.6h0M491.3 283.5h0M262.8 435.4h0M212.8 415.1h0M174.6 438.7h0M193.3 424.7h0M211.2 418.8h0M394.1 380h0M442.6 351.9h0M460.8 342.5h0M494.8 281.2h0M347.2 397.8h0M460.3 339.4h0M329.1 359.5h0M304.7 417.7h0M461.7 338.9h0M222.9 414.3h0M380.3 328.5h0M484 328.9h0M318.9 408.6h0M373.7 329.1h0M363.2 391.3h0M421.4 311.7h0M289 424.4h0M189.2 432.8h0M377.3 388.2h0M324.3 411.8h0M359.9 391.8h0M537.5 286.8h0M504.2 327.1h0M501.7 280.4h0M352.6 394.3h0M399.5 375.5h0M402.1 319.1h0M271.5 429h0M483.5 324.6h0M347.2 398.9h0M360.5 392h0M198.1 428.5h0M189.6 431.2h0M392.7 374.2h0M455.2 300.6h0M217.1 415.1h0M380.6 332.3h0M171.7 465.7h0M324.1 406.2h0M518.6 305h0M473.1 291.2h0M346.2 398h0M434.5 306.1h0M341.8 398.8h0M291.9 374.5h0M372.4 336.1h0M309.7 367.2h0M289.1 380.2h0M243.9 402.1h0M211.7 444.8h0M480.7 287.4h0M468.8 294.6h0M299.2 424.1h0M349.9 349h0M429.8 305.1h0M295.7 377.3h0M495.5 281.1h0M257.1 437.1h0M374.8 336.5h0M220.1 444.9h0M193.1 454.4h0M267.6 391.7h0M199.9 451.8h0M509.9 317.6h0M202.3 423.2h0M412.8 314.1h0M426.9 306.9h0M399 320.3h0M440.7 351h0M214.2 418.9h0M165.5 451.5h0M482.4 325.5h0M322.2 406.8h0M480.4 325.7h0M488.2 322.4h0M194 456.2h0M446.8 303.9h0M446 347.5h0M524.8 269.8h0M442.5 351.8h0M171.5 463.7h0M517.5 278.1h0M428.3 359.3h0M533.9 290.1h0M173.5 441.8h0M273 387.3h0M244.2 401.4h0M520.6 273.4h0M206.2 450.5h0M367.1 390.1h0M387.1 327.1h0M195.3 430.1h0M173.9 439.1h0M327.4 359.4h0M293.7 379.3h0M542.9 285.9h0M538.2 288.2h0M322 364.6h0M514.1 309.2h0M408.4 318.5h0M161 473.8h0M223.6 451.7h0M216.7 450.2h0M279.4 381.2h0M295.9 424.4h0M244.8 400.1h0M474.6 340.4h0M345.8 350.5h0M380.1 333.6h0M325.5 405.5h0M324 363.5h0M483 326.1h0M262.2 433.9h0M284.1 380.1h0M508 277.7h0M373.1 337.3h0M278.2 377.4h0M492.7 326h0M471.2 294h0M267.6 435.7h0M406.4 316.1h0M161 460.6h0M183.7 457.8h0M314.9 412.3h0M195.2 424.4h0M194.5 452h0M360.2 341h0M239.7 440.4h0M383 332.7h0M324.1 409.5h0M449.7 296.8h0M190.4 453.5h0M530.2 292.2h0M457.4 299.7h0M156 469.5h0M430.1 304.7h0M495.4 327h0M216.5 446.1h0M419.5 362.4h0M442 350.1h0M389.1 326.3h0M194.7 452.7h0M226.5 408.6h0M195 427.3h0M223.4 444.4h0M300.8 369.1h0M423 363.9h0M285.6 379.1h0M467 294.6h0M419.1 314.6h0M484.7 282.3h0M180 435.8h0M383.3 331.2h0M335.2 402.6h0M152.4 467.5h0M331.9 403.1h0M415.7 314h0M253.8 439.7h0M542.9 275.7h0M495.5 320.6h0M293.7 375h0M521.7 301.6h0M442.9 351h0M368.1 338.3h0M278 427h0M246.4 401.5h0M152.9 469.7h0M375.2 336.4h0M269.4 389.4h0M521.2 270.8h0M181.7 434.7h0M291.4 425.6h0M176.8 435.8h0M252 397.2h0M428.9 311.3h0M388.7 377.1h0M440.6 351.3h0M470.6 332.1h0M224.5 448h0M515.5 274.8h0M407 318.4h0M172.7 440h0M282.5 383.9h0M333.5 351.9h0M541.1 275.2h0M280.3 385.7h0M453.8 296.7h0M363.3 391.9h0M388.2 329.4h0M431.7 356.7h0M456 341.4h0M357.2 391.4h0M338.4 401.2h0M541.9 278.7h0M161.1 460.2h0M369.9 333.2h0M209.1 418.6h0M214.2 419.6h0M539 276.2h0M467 294.2h0M192.7 455.2h0M309.1 416.2h0M312.3 418.7h0M238.7 405h0M241.6 402.1h0M268.2 431.9h0M212.1 449h0M447.6 347.6h0M342.3 401.2h0M386.6 327h0M233.1 443h0M491.9 269.1h0M267.9 387.8h0M153.7 471.3h0M188.6 435.6h0M284.5 427.4h0M537.9 273.5h0M423 313h0M320.5 360.5h0M275.3 428.5h0M203.8 422.4h0M208.6 445.7h0M290 375.2h0M235.2 446.6h0M258.1 396h0M167.1 469.1h0M293.6 376.1h0M365.4 392.5h0M496.1 318.7h0M316 411.7h0M312.3 365h0M390.7 378.2h0M299.3 376h0M483.9 328.6h0M424.9 310.8h0M275 429.9h0M488 326.3h0M242.8 439.2h0M432 308.2h0M418.2 313h0M238.4 442.7h0M337.4 402.2h0M237.6 401.3h0M357.5 396.9h0M218.3 445.1h0M477.7 332.3h0M301 423.6h0M210.9 420.5h0M468.1 333.4h0M306.6 417.1h0M339.4 399.7h0M419.4 314.1h0M296.8 377.7h0M229.5 440.7h0M434.4 309.3h0M480.3 287.5h0M229.9 410.1h0M297.2 375.8h0M432.2 308h0M471.1 294.3h0M516.2 270.7h0M297.5 420.2h0M449.4 302.3h0M506.9 313.2h0M333.2 352.7h0M337.5 402.2h0M352.7 397h0M309.1 368.9h0M454.6 342.1h0M180.5 456.5h0M448.3 348.8h0M431.6 308h0M315.5 418.7h0M495.3 281.3h0M152.4 468.7h0M274 383.3h0M352.3 346.7h0M493.2 324.2h0M230 411.3h0M333.8 356.8h0M467.4 291.8h0M170.3 442.1h0M373.7 333.4h0M265.4 437.2h0M330 407.6h0M172.9 442.8h0M491.6 284.9h0M515.3 310h0M416.8 362.9h0M482 285.3h0M189.9 430.3h0M314.2 415.1h0M421.6 311.1h0M166.5 467.7h0M380.5 333.5h0M511.1 273.9h0M466.6 334h0M300.5 421.3h0M187.1 435.1h0M418.8 310.2h0M515.6 309.8h0M265.1 391.3h0M518.2 273.8h0M386.7 377.8h0M257.4 439.3h0M516.1 273.6h0M286.3 422.6h0M281.9 381.8h0M220.8 441.8h0M371.4 334.5h0M385.9 329.2h0M188.5 456.1h0M289.7 380.5h0M217.2 446.3h0M495.9 283.1h0M498.1 280.2h0M196.6 427.5h0M350.7 347.2h0M230.6 408.4h0M348.7 399.7h0M343.4 400.7h0M240.8 439h0M162.2 459.6h0M502.6 280.4h0M385.7 377.9h0M247.3 441.5h0M394.8 379h0M471 292.2h0M522.4 277.1h0M247 437.2h0M286.4 381.9h0M281.1 432.6h0M340 350.8h0M447.6 349.1h0M484.9 326.5h0M288.3 374.6h0M445.2 295.4h0M508.3 317.9h0M383.8 324.4h0M494.8 277.5h0M524.6 269h0M249.8 436.9h0M331.3 355.3h0M421.4 363.6h0M464.3 344h0M310.9 366.5h0M284.5 431.4h0M151.8 472.3h0M471.7 294.5h0M282.8 380.8h0M395.2 325.8h0M427.7 308.6h0M197.8 454.6h0M222.9 411.2h0M238.8 442.5h0M306.2 366.5h0M541.5 273.6h0M358.8 339.9h0M330 405h0M190 459.4h0M299.2 426.8h0M180.1 461.1h0M293.3 422.7h0M356.8 398.1h0M294 424.8h0M420.7 363.8h0M502.9 313h0M278.8 377.5h0M207.2 446.1h0M305.3 417.1h0M451.9 301.6h0M537.3 293.8h0M300.7 421.9h0M259.9 391.6h0M464.3 296.9h0M497.4 282.2h0M273.5 388.4h0M532.9 291.1h0M523.7 275.2h0M192.9 430.9h0M531.6 272.3h0M328.3 407.9h0M274.6 387.4h0M371.3 386.1h0M293.6 422.2h0M399.6 324.4h0M477.4 332h0M255.1 394.7h0M448.5 349.3h0M194.1 427.2h0M401 371.7h0M522.4 299.2h0M469.1 293.7h0M360.6 394.4h0M202.9 424.3h0M348.8 397.8h0M309.9 417.2h0M462.2 339.7h0M448.6 355.2h0M444.2 352.7h0M202 451.7h0M258.9 392h0M258.1 395.9h0M417.7 367.4h0M427 307h0M151.4 468.6h0M173.4 438.8h0M165.7 468h0M399.3 321.9h0M236.3 442.7h0M470.3 335.5h0M161.2 468.3h0M399.5 372.6h0M352.8 397.6h0M544.3 286.4h0M540.6 277.9h0M329.8 405.6h0M285.3 382.2h0M226.9 442.5h0M228.3 441.4h0M371.9 392.5h0M525.5 298.5h0M174.8 438h0M435.9 355.1h0M214.8 448.4h0M167.5 441.9h0M468.6 297.7h0M210.9 448.8h0M511 311.3h0M200.8 424.8h0M232.9 406.6h0M431.2 361.6h0M440 299.6h0M203 423.3h0M300 367.8h0M333.6 352h0M178.1 436.6h0M341.9 399.1h0M508.7 276.8h0M200 424.8h0M402 369.6h0M436.9 307.8h0M416.5 365.2h0M424 309.3h0M387.2 326.2h0M240.6 401.9h0M401 370.2h0M536.6 287.2h0M245.2 440.2h0M518.4 306.4h0M210.8 421.9h0M535.4 291.8h0M214.5 446.6h0M502.3 317.4h0M370.1 388.4h0M385.4 378h0M366 340.9h0M445 297.9h0M331.4 358.8h0M319.9 359h0M289.6 377.2h0M485.9 287.2h0M451.9 298.8h0M454.4 302.1h0M424.2 360.6h0M311.3 416.6h0M440.1 360.2h0M433.8 306.5h0M320.6 412.3h0M324.9 407.1h0M288 380h0M538.4 293.7h0M481.4 326.3h0M248.9 399.4h0M501 317.9h0M456.9 342.1h0M191.5 455.5h0M295.4 425.7h0M360.2 394.8h0M311.4 416.9h0M185.5 433.7h0M155.4 465.5h0M219.8 415h0M445.4 348.7h0M161 469.3h0M531.9 293.6h0M386.8 377.4h0M176.5 440.9h0M194.7 424h0M258.3 433.9h0M270.1 389.6h0M438.4 303.4h0M479.6 286.6h0M488.6 322.4h0M153.9 466h0M411.1 365.4h0M206.9 418.3h0M408.3 366.2h0M155.9 472.8h0M294 424.6h0M249.7 399.5h0M248.3 438.1h0M452.9 302.2h0M302.1 372.8h0M494.4 280.2h0M243 403.8h0M332.1 402.8h0M339.9 353.2h0M196.9 427.6h0M520.9 299.6h0M444.7 360.2h0M489.7 280.1h0M244.9 397.6h0M182.9 432.8h0M439.6 307.3h0M231.3 440.1h0M539.7 278.2h0M408.6 368.1h0M443.2 351.5h0M389.6 379.7h0M524.4 301.7h0M507.5 277.1h0M507 280.1h0M323.9 359.8h0M381 383.3h0M155 470.2h0M352.6 398.3h0M396 321.2h0M545.8 278h0M277.4 384.8h0M159.1 461.4h0M150.1 469.3h0M372.5 385.3h0M197.7 451.2h0M356.8 396.7h0M242.8 402.3h0M311.9 416h0M528.9 270.9h0M170.4 462.7h0M264.7 384.4h0M316.4 418.2h0M408.8 366.9h0M410.6 374.8h0M531.1 272.4h0M375.8 335.1h0M243.7 400.6h0M179.1 459h0M416.2 364.5h0M418.5 362h0M529.6 294.1h0M529.3 272.2h0M506.4 278.6h0M412.7 364.9h0M235.1 409h0M310.8 367.8h0M523.2 300.1h0M323.1 363.9h0M417.7 311h0M453.6 344.8h0M429.1 360.1h0M269.1 385.2h0M486.5 323.1h0M155.9 469.4h0M177.7 437.7h0M151.6 469.4h0M540.9 274.1h0M534.1 274.1h0M276.8 387.2h0M171.8 443h0M397.1 375.8h0M438.6 308.3h0M517.9 302h0M424.3 312.6h0M465.7 337.3h0M225.8 449h0M241.6 402.5h0M204.7 424.9h0M401 321.6h0M361.1 393.3h0M237.5 404.6h0M393.4 375.3h0M412.4 316.4h0M455.4 345.2h0M464.6 295.8h0M172 460.6h0M353.4 338h0M332.9 356.5h0M356.4 343.3h0M457.1 299.7h0M341.5 353.3h0M276 385.1h0M297.2 366.6h0M395 324.1h0M260.3 385.3h0M201.1 425.7h0M177.1 459.6h0M183.9 434h0M170.3 443.4h0M192.2 430.8h0M479.9 288.2h0M318.6 365.3h0M534.8 273h0M503.1 317.4h0M389.2 326.7h0M440.7 303.6h0M192.4 453.4h0M251 393.8h0M488.4 283.7h0M285.3 379.5h0M491.8 323.2h0M390.2 381.3h0M486 324.2h0M298.4 376.5h0M239.9 441h0M501.4 318.4h0M468.5 336.5h0M472 294.8h0M482.5 288.8h0M475 285.8h0M498 274.9h0M418.1 365.6h0M366.9 336.6h0M459.8 339.5h0M248.7 400.5h0M465.4 298.8h0M443.5 305.2h0M467.8 336.3h0M504.3 273.1h0M273.4 427.3h0M382.6 381.5h0M314.9 411.3h0M293.5 371.8h0M199.4 453h0M321.2 407.8h0M357.4 393.1h0M238 443.7h0M499.7 316.7h0M431.1 356.9h0M280.3 427.1h0M348.1 400h0M546 277.9h0M510.4 312.1h0M293.2 420.9h0M349 406.7h0M352.3 394.2h0M399.9 373.4h0M252.6 395.7h0M335.4 356.1h0M433.9 355.5h0M354.6 342.5h0M230 443.5h0M432 359.2h0M516.3 272.2h0M184.2 435.3h0M206.3 419.7h0M283.1 424.4h0M213.8 419.5h0M214.1 419.9h0M275.1 428.6h0M324.2 410.6h0M336.7 356.4h0M217 414.8h0M309.7 369.5h0M423.5 309.7h0M376.7 328.1h0M290.4 427.6h0M321.3 361.7h0M441.1 352.4h0M487.2 325.1h0M284.7 424.9h0M222.2 408.9h0M160.6 461h0M293.9 423.3h0M518 302.7h0M303.3 418.2h0M296.7 373.3h0M363.4 338.1h0M213.4 443.8h0M173.6 459.9h0M172.8 439.5h0M510.5 312.3h0M185.5 455.2h0M446.2 347.4h0M495.7 322.2h0M165.1 453.6h0M430.5 356.5h0M221.6 446.1h0M292.8 422.9h0M250.3 383h0M429.5 311.3h0M289 424.4h0M419.6 311.3h0M378 328.4h0M283.4 375.3h0M512.3 307h0M301.8 421.8h0M461.2 340.9h0M314 414.4h0M311.9 422.6h0M393.6 326.8h0M507.9 313.7h0M542.3 286.5h0M253.9 439.2h0M343.5 348.1h0M518.4 304.6h0M377 384h0M519.6 277.4h0M259.5 389.6h0M437.6 306.3h0M188.6 435h0M409.1 314.2h0M523.5 299.2h0M470.2 336h0M308.9 414.1h0M446.6 305.6h0M541.4 284.1h0M402.2 318.9h0M163.2 455.2h0M503.7 278.9h0M434.6 358.5h0M223.4 411.7h0M223.6 441.7h0M518.2 276.9h0M511.4 272.1h0M534.5 291.1h0M488.5 282.8h0M469 333.5h0M333.5 412.3h0M213.6 444.8h0M216.4 417.4h0M256.1 393.3h0M383.4 326.9h0M530.1 294.5h0M532.9 275.2h0M161.4 460.9h0M399.3 378.2h0M293.5 423.5h0M491.6 322.5h0M268.9 433.6h0M175.5 441h0M351 341.6h0M421 367.4h0M432.4 309h0M533.7 276.7h0M314.6 414.5h0M155.2 466.4h0M190.3 457.1h0M354.2 341.1h0M426.2 299.4h0M193.8 452.4h0M294.2 436.8h0M543.5 282.7h0M437.5 357.1h0M251 398.4h0M383.1 381.4h0M377.5 384.4h0M156 468.8h0M449.7 299h0M186.7 435.8h0M453 299.1h0M329.2 410.6h0M221.6 416.1h0M185.2 455.9h0M352.8 394h0M270.9 383.8h0M319.8 365.2h0M485.6 325.7h0M173.1 459.5h0M444 349.3h0M415.2 316.2h0M507.4 278.1h0M228.6 409.1h0M282.6 384h0M308.7 414.4h0M177.9 467.7h0M189.6 453.9h0M415.3 310.9h0M519.8 300.2h0M341.5 350.9h0M378.9 384.5h0M467.1 298.4h0M380.9 383.5h0M295.2 425.2h0M323.4 360.2h0M492.4 323.4h0M433.9 307.4h0M151.4 468.7h0M544.6 272.7h0M492.6 326.2h0M525.3 297.6h0M341.3 352h0M382.9 330.7h0M349.5 348.9h0M360.6 340h0M459.3 342.7h0M352.3 346.3h0M430.6 359.2h0M234.3 408.7h0M292.3 422h0M242.6 440.7h0M401.6 369.8h0M292.8 373.2h0M415.4 368.1h0M283.4 381h0M343.1 351.1h0M432 364.5h0M323.9 358.7h0M222.6 412.7h0M487.7 277.9h0M319.2 364.3h0M197.3 452.7h0M385.7 329.9h0M300.2 372.3h0M281.8 424.8h0M158.1 469.5h0M229.3 445.4h0M382.1 379.6h0M278.8 427.4h0M198.4 426.7h0M293.8 425.6h0M245.2 439.7h0M299.4 372.5h0M256.6 438.9h0M171.5 440.5h0M458.1 340.7h0M466.7 295h0M324.4 408.1h0M234.2 409.8h0M296.1 376.7h0M428 362.1h0M352.2 344h0M233 440.8h0M393.5 374.2h0M528.3 273.8h0M360.7 339.3h0M284.1 378.3h0M309.2 368.2h0M326.7 358.2h0M331.1 406.4h0M161.4 454.8h0M417.6 314.9h0M218.5 443.2h0M405.2 320.3h0M351.8 347.9h0M341.4 399.7h0M418.7 364.8h0M376.3 332.1h0M374.4 385.4h0M534 289.3h0M392.3 316h0M438.3 303.9h0M477.8 331.5h0M324.3 408.5h0M491.5 279.9h0M160.3 463.5h0M397.2 324.5h0M260.4 442.1h0M542 277.8h0M516.9 303.2h0M186.2 457h0M491.3 283.6h0M461.3 295.6h0M261.3 437.8h0M425.2 312.3h0M527.8 274.6h0M160.5 472.4h0M291.3 376.9h0M410.6 317.3h0M513.7 274.9h0M228.4 444.1h0M187.4 434.6h0M299.2 421.5h0M150.8 471.3h0M368.6 386.6h0M457.8 293.1h0M418.5 364.4h0M527.3 275.1h0M351.8 344.3h0M303.6 371.5h0M225.2 414h0M349.5 399.3h0M228.9 411h0M363 340.8h0M437.9 306.2h0M297.2 374.4h0M423.7 310.2h0M190 457.9h0M248.4 400.4h0M343.8 350.8h0M297.1 420.5h0M238.5 406.8h0M426.1 363.1h0M164.5 472h0M305.4 368.7h0M352.8 344.2h0M479 290.5h0M503 278.6h0M332.7 404.8h0M492.4 281h0M537.4 274.1h0M483.9 288.3h0M432.2 358.1h0M410.1 367.2h0M278.7 425.6h0M415.5 315h0M366.2 390.9h0M177 461.1h0M296 375.7h0M314.3 367.4h0M533 275.6h0M533.6 272.6h0M305.7 416h0M166.7 443.4h0M324.4 406.6h0M355.6 336.4h0M244.3 437.2h0M326 408h0M431.3 306.3h0M269.4 430.3h0M200.2 426.9h0M238.1 406.6h0M355 340.6h0M249.7 394.9h0M443.9 300.9h0M386.7 377.4h0M424.7 359.6h0M346.8 350h0M381.9 330.4h0M183.9 456h0M195.5 454.8h0M298.1 371.5h0M538.5 296.8h0M251.8 436.5h0M545 285.8h0M181.5 457h0M394 324.3h0M188 455.8h0M407.2 367.4h0M530.2 275.1h0M425.7 359.7h0M375.5 387.4h0M532.1 296.6h0M482.3 287.1h0M521.7 303.5h0M461.8 298.4h0M466.4 341.4h0M217.4 418.4h0M283.3 381.2h0M238.6 442.3h0M269.8 391.9h0M322.5 360h0M298.6 371.3h0M250.2 396.1h0M380.5 381.6h0M534.2 266.9h0M199.3 453.6h0M470.6 335.5h0M211.1 445.8h0M225.7 444.4h0M398.8 379.6h0M374.4 331.1h0M190.4 430.1h0M405.7 375.6h0M326.4 360.7h0M193.5 457.4h0M420.7 360.7h0M345.2 334.7h0M326.5 405.7h0M534.8 274.4h0M157.1 463.7h0M313.8 413.7h0M244.2 401.6h0M405.7 370.3h0M544.6 281.1h0M187.1 433h0M426.3 364.4h0M379.8 333.3h0M395.8 324.9h0M344.8 348.9h0M466.9 336.6h0M494.9 317.9h0M497.9 320.6h0M477.1 330.4h0M300 373.1h0M281.4 430.8h0M511.8 311.7h0M332.1 407.1h0M396.8 323.5h0M429.2 357.8h0M497 283h0M406.7 368.7h0M239.7 440.9h0M278.9 433.2h0M526.9 275.3h0M287 425h0M456.5 341h0M345.3 400.7h0M307.3 419.6h0M280.5 384.8h0M427.5 360.9h0M350.9 340.3h0M235.8 444.2h0M150.4 472.3h0M453.5 345.9h0M540 267.8h0M274.2 430.7h0M374.5 334.3h0M203.6 453.4h0M426.1 361.4h0M453.5 301.6h0M455.6 296.8h0M192.2 428h0M179.1 460h0M183.1 434.8h0M312 368.4h0M245.9 440.6h0M360.6 391.9h0M266 392.3h0M278.8 380.1h0M340.3 343.9h0M328.1 409.8h0M252.4 394.5h0M212 415.4h0M301.4 424.1h0M198.9 454.8h0M411.4 316.4h0M326.6 352h0M516.8 273.1h0M514.8 310.1h0M542.4 270.6h0M298.2 423.4h0M335.5 353.7h0M439.5 303.4h0M298.6 372.5h0M524.3 296.3h0M177.3 459.6h0M539.1 275.9h0M218 444.7h0M318.6 364h0M326.7 405.8h0M171.3 439.8h0M502.1 279.5h0M362.9 389.2h0M414.3 367.6h0M474.7 292.3h0M409.1 316.4h0M163.5 469.2h0M326.5 361.3h0M473 294.3h0M469.5 334.1h0M372.5 330.5h0M360.9 391.5h0M241.3 439.8h0M494 319.7h0M242 441h0M288.6 425.9h0M540.3 273.5h0M497.4 281.1h0M454.9 298.6h0M367.9 386.6h0M455.4 302.3h0M252.6 438.5h0M325.5 406.3h0M361.9 390.3h0M273.1 388.9h0M438.9 355.7h0M196.2 451.4h0M249.7 440.4h0M521.6 274.2h0M372.2 326.2h0M155.2 469.5h0M320.4 411.9h0M272.3 385.3h0M234 409.8h0M221.2 415.7h0M270.8 431.4h0M286 425.3h0M338.3 351.8h0M390.9 319.7h0M163.3 470.6h0M480.3 288.4h0M226.2 445.3h0M224.3 442.2h0M196.6 429.3h0M464.7 295.1h0M200.1 425.3h0M519.1 273.2h0M286.2 427.9h0M366.1 391.5h0M456.6 340.2h0M529.5 273.4h0M275.7 429.7h0M167.2 470.3h0M336.7 402.8h0M160 460h0M418.2 304.2h0M528.9 273.4h0M389.9 323.6h0M385.6 377.8h0M515.7 277.9h0M543.9 281.9h0M505.5 311.8h0M313.7 413h0M172.6 464.3h0M483.1 327.3h0M345.2 349.8h0M467.6 292.3h0M255.4 394.1h0M375.7 385.1h0M541.6 277.4h0M274 389.9h0M514.6 271.1h0M439 355.6h0M231.6 443.3h0M216.4 411.3h0M537.3 276.7h0M436.6 356.9h0M354.3 399.9h0M409.8 368.9h0M376.7 333.9h0M321.2 409.3h0M319 361h0M156.7 470.2h0M384.4 332.4h0M496 319.5h0M278.2 378.7h0M245.5 398.8h0M336 353.5h0M492 322.2h0M540.1 285h0M174 462.7h0M413.6 306.2h0M394.2 325.7h0M248.8 436.7h0M240.7 404.3h0M324.1 409.6h0M280.9 430h0M390 326.8h0M402.7 322.1h0M372 335.1h0M506.7 313.3h0M259.2 434.4h0M323.7 407.1h0M202.2 424.7h0M450.8 302.2h0M456.6 344.3h0M249.3 439.4h0M301 371.3h0M292.4 423.6h0M231.9 408.4h0M365.2 339.2h0M177.3 437.2h0M367.8 338.7h0M260.9 391.4h0M426.5 357.9h0M167.6 443.5h0M475.5 329.7h0M538.8 285.6h0M538.8 272.6h0M408.6 313.4h0M189.9 421.6h0M404.6 369.2h0M184.4 457.7h0M288.6 377.3h0M248.1 397.8h0M352.2 343.1h0M218.9 416.5h0M369.2 392.1h0M166.6 468.1h0M206.7 446.8h0M266.6 430.3h0M421.8 360.3h0M411 317.2h0M309.4 368.7h0M368.6 334.5h0M280.6 434.9h0M453 344.9h0M196.6 425.8h0M277.5 387.6h0M429.5 360.5h0M275.7 385.7h0M297.1 373.5h0M332.4 403.7h0M353.2 399h0M424.6 305.5h0M369.9 334.7h0M467.2 297.7h0M531.8 270.2h0M369.4 388.4h0M185.6 454.8h0M416.3 369.6h0M518.5 276.9h0M458.4 297.4h0M211.9 451.4h0M307.6 367.6h0M459.9 341.4h0M342.8 402h0M421.1 310.7h0M359.5 394.9h0M432.8 305.7h0M283.7 429.2h0M543.7 282.3h0M180.2 457.5h0M327.3 352.9h0M371.2 335.5h0M287.3 430h0M477.1 291.9h0M200 418.8h0M529.7 276.9h0M258.4 394.8h0M416.8 363.3h0M441 353h0M333.7 356.3h0M394 318.2h0M488 322.2h0M257.4 439h0M152.5 469.4h0M194.5 456h0M280.4 381.6h0M383.4 381.4h0M440.3 356.3h0M297.8 424.6h0M250.4 393.9h0M372 333.5h0M525 299.4h0M157.3 462.5h0M295.4 423.9h0M408.4 314.1h0M425.8 312.8h0M545.1 282.8h0M534 290.1h0M355.3 395.5h0M483.8 285.6h0M228.9 442.6h0M377.6 329.3h0M223.3 414.9h0M151.2 472.6h0M251.2 445.4h0M219.1 415.8h0M294.3 377.8h0M382.8 379.4h0M425 311.3h0M540.5 276.2h0M214.3 419.2h0M465.4 296.1h0M329.4 407.3h0M415.3 313.6h0M450.3 301h0M391.3 327h0M367.7 393.3h0M280.1 382.9h0M248.1 442.3h0M521.8 273.3h0M230.5 407.6h0M271.2 388.3h0M518.2 301.2h0M164.5 452.9h0M400.5 317.8h0M530.1 274.3h0M254.2 436h0M277 425.7h0M268.4 434.2h0M458.6 299.1h0M323.6 416.7h0M441.4 350.5h0M479 327.9h0M255.8 434.3h0M284.8 379h0M507.6 311.9h0M194.2 460h0M463.5 299.3h0M483.6 324.8h0M489.4 286.9h0M539.2 274h0M380.1 385h0M531.5 275.8h0M278.5 382.3h0M322.2 358h0M427.9 358.4h0M313.7 415.3h0M272.5 429.9h0M311.6 412.4h0M273.3 386.9h0M439.6 355.2h0M477 330.4h0M306.3 368.7h0M400.4 371.4h0M351.7 345.9h0M340.8 401.6h0M381.7 379.6h0M538.3 286.2h0M238 438.3h0M345.7 350.1h0M231.3 411.1h0M278.4 385.9h0M157.6 470.5h0M151.1 466.9h0M231.3 444.7h0M348.4 396.7h0M394.8 376.1h0M299.7 372.2h0M492.5 322.8h0M218 414.9h0M474.3 333.8h0M253 436.3h0M301.2 374.7h0M203.9 422.7h0M357.8 392.2h0M361.7 342.2h0M180.5 432.8h0M184.7 435.8h0M160.5 460.5h0M181.8 458.6h0M359.7 337.9h0M317.6 423.7h0M454.7 344.1h0M529.9 292.8h0M375.1 332.8h0M237.6 440.4h0M429.8 375.9h0M466.8 296.3h0M522.4 277.4h0M336.2 400.9h0M341.7 352.1h0M287.9 424h0M202.9 421.5h0M261.4 391.5h0M345.3 397.1h0M231.6 410.1h0M532.4 272h0M404.2 374h0M164.2 470.4h0M176.4 460.9h0M262.3 433.1h0M504 278.7h0M538.4 273.7h0M179.8 436.8h0M464.1 293.6h0M472.4 290h0M252.1 398.2h0M215 446.9h0M209.7 422.4h0M254.3 437.3h0M391.4 381.8h0M169.9 464.5h0M204.3 449.8h0M336.1 354.8h0M272.3 437.7h0M540 276.1h0M251.6 440.9h0M350.4 400.6h0M191.5 430h0M223.7 411.9h0M392 326.9h0M516.5 272.9h0M168.9 442.7h0M534.9 276.5h0M354.3 395.5h0M326.6 354.6h0M197.7 428h0M402.1 378.6h0M199.3 452.4h0M544.3 281.6h0M201.4 453.3h0M154.1 465.6h0M254.6 438.6h0M505.1 311.4h0M390.2 378h0M195.1 430.9h0M192.3 430.6h0M291.3 422.4h0M373.9 385.6h0M378.6 382h0M380.5 330.7h0M158 471h0M475 293.4h0M251.4 436.7h0M453 302h0M481.4 330.5h0M178.2 461.3h0M418.9 312h0M213.4 417.7h0M381.8 332.4h0M162.5 472.6h0M369.5 388.2h0M261.4 388.7h0M150.9 470.3h0M351.7 340.5h0M184.6 435.6h0M408.4 368.1h0M480.8 325.9h0M508.3 312.9h0M516.2 306.7h0M184.7 432.6h0M207 446h0M175.2 465.3h0M497 282.3h0M281.4 385.6h0M410 373.2h0M179.9 461h0M344.8 351.7h0M539.7 291.1h0M279.3 427h0M259.1 394.9h0M212.5 421.2h0M257.5 437.5h0M271 387.1h0M457.8 298.4h0M341 399.2h0M425.4 309.1h0M375 385.3h0M302.1 419.4h0M165.6 474.3h0M212.7 447h0M407.8 367.5h0M480.4 329.7h0M250.8 398.9h0M496.7 319.4h0M498.4 279.4h0M361.7 341.8h0M415.4 306.5h0M534.2 276.2h0M292.3 375.3h0M451.9 299h0M170.9 467.2h0M526.6 296.2h0M391 385h0M279.3 383.8h0M409.4 314.2h0M294.1 373.7h0M401.5 319.7h0M212.3 452h0M463.1 338.6h0M476.5 331.2h0M220.6 413.9h0M459.5 295.8h0M174.4 437.7h0M292 373.5h0M399.7 319.7h0M259.8 433.6h0M207.9 447.7h0M173.4 463.3h0M167.9 467.3h0M316.9 411.4h0M309.3 418h0M225.4 414.4h0M435.7 308.3h0M517.2 276.7h0M361.2 341.1h0M430.4 309h0M434.5 354.3h0M194.4 430.8h0M412.1 312h0M247.3 398.2h0M379.1 327.5h0M319.8 410.2h0M186.3 431.8h0M403 318.2h0M297.8 376.1h0M233.1 408.5h0M528.7 304h0M481.9 286h0M496 319.3h0M318.2 365.3h0M198.3 454.7h0M266.4 434h0M232.8 440.8h0M181.7 435.6h0M230.4 408.8h0M241.9 437.8h0M430.5 309.4h0M522.4 275.4h0M350.1 342.6h0M287.5 377.8h0M483 287.4h0M229.3 412.8h0M373.7 336.6h0M408.8 373h0M356.8 339.3h0M489.7 280.3h0M235.8 406.2h0M236.7 441.9h0M394.5 379h0M420.5 306.1h0M452.4 347.1h0M533.6 293.2h0M418.8 367.2h0M306.5 417.7h0M496 281.2h0M188.5 457.7h0M239.1 403.5h0M312.5 416.1h0M351 396.1h0M423.2 309.4h0M451.4 343.7h0M186.6 463.3h0M222.6 447.5h0M489.9 284.1h0M437.8 305.1h0M305.2 371.2h0M429.7 309.6h0M154.7 470.5h0M529.7 276h0M210.6 444.3h0M257.6 435.2h0M508.2 276.9h0M194.7 451.9h0M367.2 337.3h0M510.2 309h0M428.7 358.5h0M262 388.1h0M444.7 351.1h0M298.6 373.6h0M216.7 443.8h0M486.3 327h0M164.8 467.4h0M451.7 303.7h0M199.1 426h0M287 427h0M484 279.7h0M373.7 385.1h0M237.2 406.6h0M454 346.6h0M485.5 323.8h0M425.6 310.4h0M205.5 424.9h0M400.2 371.8h0M338.9 355.6h0M352 347.1h0M231.6 406h0M498.5 318.3h0M153.5 468.1h0M355.5 345h0M510.3 312h0M500.3 277.9h0M499.2 276.9h0M467.5 337.8h0M468.1 339.8h0M441 353.1h0M351.1 344.8h0M485.1 325.4h0M377 384.1h0M534 276.3h0M251 439.7h0M466 338.8h0M297.2 370.9h0M419.6 313.9h0M191.9 457.1h0M418.6 314h0M358.7 336.3h0M380 381h0M278.8 425.6h0M245.3 402.6h0M328.1 356.1h0M446.7 349.3h0M542.9 287.2h0M252.8 437.3h0M275 433.8h0M222.1 443.7h0M486.5 284.5h0M457.5 341.5h0M256.4 436.3h0M363 394.5h0M258.8 391.9h0M514.1 274.3h0M492.1 325h0M176.3 441.6h0M250.4 398.7h0M198.8 427.9h0M190.8 457.7h0M468.6 334.1h0M474.7 290.3h0M237.6 438.5h0M187.4 456.9h0M416.3 315.2h0M495 320.8h0M174.1 461.1h0M383.8 330.1h0M260 432.8h0M356.2 392.8h0M351.3 396.2h0M351.7 400.3h0M460.5 338.7h0M274.2 388.5h0M545.1 282.2h0M516.1 273.7h0M298.6 425.4h0M207.2 447.7h0M333.7 412h0M453.5 303h0M229.4 411.1h0M202.2 449.8h0M421.6 310.4h0M448.6 346.5h0M425.8 305.9h0M367.2 338.3h0M538.3 277.3h0M534.6 296.4h0M221.2 415.2h0M182.1 434.9h0M462.7 294.6h0M205.6 419.7h0M462.4 337.9h0M166.7 446.4h0M452.5 302.4h0M486.9 325.5h0M165.3 449.1h0M434.6 354.1h0M403.5 372.7h0M505.3 277.5h0M516.6 306.2h0M344 351h0M282.7 383.5h0M445.8 351.4h0M199.7 453.8h0M303.3 367.4h0M408.6 316.3h0M310.3 416.5h0M375.6 387.6h0M380 380.9h0M429.3 357.4h0M342.8 402.1h0M185.4 457.4h0M361.5 339.7h0M493.5 280.9h0M196.3 456.9h0M232.7 409.2h0M430 360.6h0M319 410.4h0M159 460.4h0M268.7 428.9h0M193.7 452.2h0M339.5 350.5h0M221.4 413h0M457.9 299.6h0M537 287.9h0M322.9 409.3h0M185.7 432h0M350.4 402.2h0M301 421.4h0M156.3 467.8h0M442.3 302.5h0M526.4 298.5h0M522.6 272.4h0M459.2 338.9h0M183 458.6h0M220.9 447.1h0M474.6 331.2h0M315.6 367.8h0M260.8 389.4h0M496.7 326.8h0M431.6 308.6h0M273.4 429.9h0M284.3 379.3h0M543.4 267.9h0M358.3 394.8h0M342.2 404.9h0M425.2 360.2h0M174.7 436.3h0M203.5 423h0M240.4 401.4h0M155.4 470.3h0M316.9 364.8h0M282.8 427.7h0M471 333.7h0M484.1 289.6h0M344.6 341.8h0M310.7 367h0M355.6 341.3h0M226.2 410.4h0M255.5 439h0M157.5 463.7h0M190.5 465.7h0M469.2 297h0M198.3 426h0M201.7 422.3h0M448.6 291.7h0M231.8 408.7h0M385.6 380.3h0M274.6 431.4h0M342.5 351.7h0M482.2 331.3h0M385.9 383.4h0M191 457.1h0M519.6 306.7h0M445.4 347.9h0M444.2 304.1h0M254.9 390.4h0M446.3 349.1h0M321.1 360.7h0M268 429.1h0M421.3 364.7h0M434.7 306.2h0M205.5 448.1h0M299.6 420.6h0M173.8 462.2h0M307 415.3h0M157.3 469.1h0M358.1 340.2h0M500.7 279.6h0M363.2 393.4h0M420 364.5h0M276.6 430.5h0M449.1 301h0M173 462.7h0M285.5 424.5h0M419.9 363h0M341.6 399.5h0M305.4 420.5h0M349.2 394.9h0M302.7 422.2h0M382.5 332.1h0M283.6 425.7h0M257.2 436.4h0M447.1 349.6h0M341.6 404h0M486.6 288.3h0M476.7 291.4h0M297.5 374.3h0M171.6 437.8h0M266.2 434.7h0M539.1 277.1h0M326.1 358h0M178.3 439.4h0M203 422.6h0M532.9 292.8h0M202.4 458.2h0M205.5 417.4h0M451.9 303.6h0M441.8 350.1h0M440.2 353h0M280.3 430.4h0M237.5 440.5h0M273.1 433.2h0M488.6 283.3h0M534.5 292.6h0M514 306.6h0M152.8 467.5h0M543.3 274.7h0M292.5 424.3h0M343.3 345.3h0M339.2 405.6h0M338.3 352.6h0M282.6 427h0M299.5 427.5h0M301 372.7h0M163.4 473h0M502.9 320.6h0M434.7 354.5h0M488.5 322.2h0M347.8 397.9h0M331.2 407.6h0M509.7 277.6h0M386.6 378.7h0M418.4 313.1h0M404.8 367.8h0M504.7 315.8h0M502.6 275.4h0M437.8 354.6h0M295.1 374.4h0M174 461.4h0M404.3 317.3h0M301.2 374.3h0M487.4 324.8h0M223.3 414.1h0M223.1 442.3h0M443.1 303.7h0M298.7 370.1h0M379.7 385.1h0M153.5 469.6h0M509.3 308.8h0M396.9 322h0M202.2 449.8h0M164.8 452h0M522.2 275.7h0M403.5 321.5h0M167.3 466.9h0M169 469.2h0M423.5 313.7h0M184.7 428.2h0M448.3 348h0M409.8 314.3h0M269.2 387.4h0M286.5 381.9h0M290.5 423.8h0M262.5 432.2h0M342.6 350.4h0M237.6 406.3h0M503.5 314.4h0M331.1 355.2h0M186.2 433.7h0M269.4 388.7h0M353.5 396.7h0M254.1 397.5h0M521 300.2h0M180.7 456.6h0M189.2 457h0M312.9 417.1h0M362.5 393.2h0M429.3 358.7h0M365.2 391.8h0M327.4 355h0M443.2 353.6h0M172.1 440.2h0M236.9 407.5h0M363.9 341.9h0M359.2 344.1h0M209.8 420.6h0M214.8 448.4h0M178.4 460.2h0M449.6 299.3h0M435.3 362.7h0M322.8 412.6h0M251.1 398.4h0M518 273.3h0M423.6 312.1h0M265.2 435.2h0M257 391.6h0M462.1 340.6h0M319.9 412.6h0M518.5 274.5h0M409.4 314.8h0M226.7 412.7h0M192 457.2h0M440.7 306.3h0M390.4 381.1h0M159.3 471.2h0M468.1 337h0M199.5 450.5h0M216.7 446.9h0M260.5 390.8h0M270.3 430.9h0M524.7 298.2h0M167.4 446.3h0M404.7 317.4h0M482.9 326.6h0M540.3 284.6h0M507.1 276.9h0M227.8 441h0M509.7 313.3h0M467.3 287.5h0M425.6 309.8h0M294.9 378h0M337.9 355.4h0M520.6 274.6h0M228.8 443h0M223.3 409.9h0M246.5 397h0M339.3 399h0M192.1 453.6h0M328.8 357h0M450.8 303.8h0M275.9 428.4h0M485.7 322.7h0M203.2 452.5h0M171.5 437.5h0M369.8 387.1h0M296.1 423.6h0M221.6 412.3h0M288.2 427h0M423.7 309.7h0M188 457.2h0M432.9 307.2h0M427.5 361.7h0M246.8 442.2h0M507.6 273.1h0M535.2 289.8h0M331.5 408.7h0M506 279.8h0M217.6 416.5h0M395.6 324.2h0M420.6 314.8h0M213.3 445.8h0M299.5 428.1h0M532.1 295.1h0M452 301.1h0M484.8 281.8h0M384.8 330.2h0M433.4 306.5h0M184.4 433.1h0M472.4 296.3h0M319.7 408.1h0M263.8 432.3h0M309.7 369.9h0M290.6 423.5h0M446.1 348.7h0M375.8 333.6h0M294.3 373.9h0M508.9 277h0M312.2 417.4h0M173.8 435.7h0M448.6 301.6h0M374.9 384.6h0M423.7 362.5h0M193.4 455.3h0M267.8 389.1h0M432.1 355.3h0M470.2 295.2h0M325.9 358.8h0M332.1 409h0M539.3 275.4h0M171.3 464.2h0M257.4 395.2h0M217.8 442.4h0M535.3 275.2h0M294.3 373.8h0M377.4 383.5h0M326.2 407.4h0M177.3 435.1h0M304.7 419.3h0M421.5 310.3h0M253.9 437.6h0M304.8 366.2h0M545.5 280.5h0M493.3 284.1h0M364.8 335.5h0M527.3 296.4h0M518.6 307.3h0M394.9 320.1h0M406.8 317.6h0M276.9 428.9h0M482.6 329h0M508.7 311.6h0M168.1 472.9h0M334.5 403.1h0M249.2 439.1h0M505.4 280.7h0M480.8 291.3h0M190.8 429.3h0M277.4 387h0M405.7 372.5h0M267.2 391.9h0M162 471.7h0M472.3 333.4h0M487.1 323.9h0M475.8 330.8h0M336.7 353h0M408.9 315.1h0M201.9 451.4h0M280.9 385.3h0M388.1 377h0M535.6 293.1h0M435.2 306.8h0M311.9 414.1h0M433.2 305h0M501.4 278.9h0M245.3 399.3h0M442 350.1h0M380.8 331.4h0M519.2 304.1h0M351 345.5h0M413.6 365.6h0M514 274.1h0M451.5 349.4h0M211.6 420.1h0M461.3 294.9h0M262.4 435.3h0M258.4 395h0M476 333.5h0M160.2 461.3h0M530.4 292.7h0M309.1 367.9h0M275.2 384.9h0M405.7 319.7h0M471.5 292.5h0M267.6 387h0M363.7 391.6h0M316.9 413h0M377 382.7h0M294 375.4h0M357.8 344.8h0M199.8 454.2h0M351.2 400.1h0M286.1 380.8h0M435.2 356.2h0M443.9 304.9h0M520.4 301.7h0M190.8 458.2h0M456.8 300.4h0M385.8 381.7h0M357.3 342.7h0M443.5 306.1h0M401.2 319.9h0M295.6 423.3h0M406.3 319.8h0M534.9 295.6h0M235 440.7h0M424.4 359.4h0M532.3 294.6h0M543.4 278.6h0M343.9 349.4h0M157.4 471.6h0M252.5 398.3h0M492.3 280.8h0M296.6 422.1h0M496.6 327.2h0M241.4 402.2h0M366.1 339.8h0M390.8 325.7h0M223 443.2h0M329.6 357.2h0M296.8 421.3h0M214.6 443.4h0M495.8 282.9h0M371.6 389.2h0M428.2 358.8h0M187.2 431.4h0M506.7 315.7h0M317.4 410.3h0M158.1 469.1h0M252.6 439.2h0M495.4 281h0M266.9 390.3h0M257.5 392h0M289.3 424h0M379.9 331.9h0M167.2 446.6h0M366.3 391.6h0M390.9 379.4h0M518.2 307.7h0M322.1 361h0M464.6 339.7h0M297.3 374.8h0M456 298.4h0M225.7 441.2h0M356.3 396.5h0M172.4 439.9h0M388.5 376.5h0M362.8 340.5h0M499.4 279.7h0M262.5 433.1h0M226.3 442.2h0M196.6 453.6h0M409.6 314.4h0M493.7 282.6h0M479.8 286.9h0M508.5 274.9h0M435.8 358.1h0M507.8 275.4h0M234.6 407.1h0M513.4 278.1h0M258.7 437.8h0M468 333h0M196.7 463.1h0M261 434.2h0M509.9 309.7h0M192.4 432.3h0M376.1 331.9h0M295.9 375.5h0M161.8 470.3h0M395.1 377.1h0M535.1 300.8h0M295.6 424.2h0M216.6 417.1h0M542.4 277.4h0M497.2 280.1h0M482.3 285.9h0M535.1 291.3h0M439.2 353.8h0M433.6 310.3h0M369.1 338h0M297.3 370.9h0M367.5 336.2h0M357 392.4h0M234.3 410h0M314.6 414.2h0M328.9 407.7h0M419.1 314.1h0M445.7 306.1h0M540.5 273.9h0M170.2 440.7h0M459.8 338.2h0M235.3 406.4h0M504.1 276.6h0M382.5 333.1h0M236.1 441.1h0M473.9 293.5h0M391.5 376.9h0M283.9 427.8h0M359.5 392.8h0M344.9 401.6h0M270.9 382.8h0M375 327.2h0M323.9 353.1h0M264.7 441.5h0M207.8 457.7h0M242.3 395.6h0M344.5 340.5h0M387.9 319.1h0M189.9 463.9h0M431.2 300.9h0M218.8 453.8h0M315.3 360.2h0M431.7 298.5h0M498.3 272.6h0M245.7 450.4h0M202 417.2h0M348.1 403h0M366.5 331.4h0M381.3 393.8h0M487.8 335.1h0M191.1 462.2h0M323.9 354.5h0M490.3 274.3h0M343.9 339.5h0M402.8 378h0M466.2 284.8h0M357.8 335.4h0M522.8 311.2h0M506 321.7h0M505.9 321.4h0M465 289.8h0M425.5 304.7h0M241.7 445.7h0M539.1 298.3h0M446 293.8h0M362.5 334.2h0M297.2 429.9h0M259.4 442.2h0M459.3 352.1h0M242.2 448.3h0M468.3 289.2h0M388 323.2h0M444.4 294.7h0M381.3 322.7h0M201.5 461.6h0M330.9 415.7h0M425.9 370.8h0M184.7 424.4h0M457.8 288.8h0M387 385.1h0M295.3 368.4h0M469.6 285.9h0M444.2 357.1h0M393.6 386.5h0M534.7 264.3h0M388.5 319.1h0M283.3 436.4h0M527.1 306h0M316.1 422.1h0M519 265.3h0M273 434.7h0M328.3 351.1h0M353.2 334h0M445.1 360.5h0M390.5 384.5h0M386.3 391.6h0M301.2 432h0M296.3 366h0M239.8 392.8h0M466.7 289.8h0M257.8 446.7h0M315.6 358h0M247.9 388.9h0M208.7 413.3h0M535.6 266.4h0M529.6 264.5h0M317.3 358.1h0M344.8 340.6h0M346.3 404.8h0M297.5 432h0M319.7 355.7h0M248.4 448.1h0M221.3 455.7h0M305.3 427h0M291.8 431.2h0M349.3 405.3h0M213 410.5h0M231.9 450.5h0M364.6 399h0M326 348.1h0M173.1 470.5h0M311.5 360.1h0M259.9 445.8h0M273.3 379.1h0M218.7 454.5h0M536.5 300.8h0M266.9 437.9h0M210.1 410.4h0M430.9 303.8h0M491.1 274.9h0M529.7 264h0M431.2 301.3h0M285.8 374.2h0M270.9 436.6h0M310.2 424.2h0M421 368.5h0M514.8 265.3h0M477.2 281.6h0M309.7 425.4h0M520.7 311.7h0M532.7 299.6h0M170.9 430.7h0M354.8 336.3h0M405.5 308h0M260.7 445.3h0M176.8 467.2h0M272.1 381.6h0M498 269.7h0M416.5 308.5h0M307.6 360.4h0M185.9 424.6h0M190.2 426.8h0M275.8 437.5h0M275.8 378h0M384.5 386.4h0M170.1 430.2h0M375.1 327.9h0M267.9 441.2h0M482.5 276.2h0M373.3 327.6h0M358 330.7h0M166 445.8h0M163.6 444.8h0M165.5 448.9h0M159 448.1h0M154.1 441.8h0M168.5 441.5h0M160.4 452.1h0M154.6 456.8h0M157.3 457.3h0M160.9 450.6h0M163.7 441.6h0M162.1 453.5h0M166.6 453.2h0M164.9 442.3h0M160.5 449.2h0M154.6 453.8h0M155.6 450.2h0M158.3 442.9h0M169.2 451.2h0M165.7 450.9h0M163 455.7h0M155 446.8h0M157.5 450.7h0M160.3 456.6h0M157.7 444.8h0M554.9 277.7h0M548.6 271.3h0M552.5 264.7h0M552.4 266.6h0M553.5 262.6h0M554.9 281.1h0M543.3 267.7h0M554.9 280.1h0M546.8 282.1h0M550.5 267.7h0M551.9 271.3h0M544.8 283.9h0M552.3 267.1h0M548.6 278.7h0M547.8 268.7h0M549.8 284.8h0M544.2 269.7h0M549.3 285.7h0M555.9 260.3h0M551.3 264.8h0M545.7 266.4h0M549.5 285.9h0M555.6 269h0M554.7 277h0M544 285.3h0M546.6 286.4h0M544.7 285.1h0M549.7 274.4h0M545.4 275h0M552.9 274.4h0M555.7 273h0M554.8 263.7h0M552.6 275.5h0M554.5 268.6h0M549 281.7h0M546.3 271.9h0M554 276.3h0M549.4 262.5h0M552.9 271h0M546.1 272.3h0M544.8 283.6h0M553.4 284.1h0M551.8 265.2h0M548.5 286.2h0M543 272.2h0M544.9 267.5h0M546.6 277.8h0M543.9 284.5h0M548.6 266.5h0M544.3 276.2h0M547.5 274.7h0M544.4 272.1h0M549.6 264.1h0M549.5 282.2h0M550.7 264.8h0M551.2 263.5h0M544.8 263.7h0M549.9 266.2h0M546.6 265.8h0M554.6 264h0M551.8 280.7h0M548.8 276.2h0M547.3 282.3h0M551.9 263.2h0M552.1 264.6h0M549.3 266.5h0M549.3 277.8h0M552.5 268.9h0M543.7 274.6h0M554.9 273.7h0M549.5 229.5h0M566.7 228h0M568.4 230.9h0M561.7 233.1h0M572 236.8h0M560 240.6h0M565.3 242.7h0M574.3 242.7h0M552.6 245.3h0M564.2 247.4h0M563 249h0M603.8 237.9h0M591.6 240h0M593.7 241.5h0M588 243.6h0M584.8 247.4h0M570.5 252.6h0M551.6 253.7h0M553.5 253.2h0M582.7 253.3h0M584.2 255.4h0M558.3 256.8h0M565.3 258.9h0M578.5 261.1h0M557.9 260h0M528.4 254.1h0M563.2 265.3h0M565.3 271.6h0M561 278.9h0M551.2 289h0M519.3 257.1h0M527.9 253.8h0M512.1 265h0M522.6 264.3h0M531.8 266.3h0M497 325.5h0M560.8 278.8h0M564.7 271.6h0M562.8 265h0M559.5 240.7h0M564.7 245.3h0M129.6 493.4h0M130.9 494.7h0M145 486.2h0M139.5 473.5h0M141 475.8h0M143 473.8h0M144.5 477h0M146 479.2h0M147.5 476.3h0M142.5 478h0M148.7 454h0M156.6 446h0M159.9 442.8h0M164.5 440.1h0M162.5 449.3h0M157.2 455.3h0M150.7 468.4h0M153 470h0M155.3 473.7h0M160.5 476.3h0M162.5 479h0M167.8 474.3h0M189.5 421h0M193 423.5h0M200.6 419.7h0M205.3 419.7h0" stroke="#f0963c" stroke-width="3.5" stroke-linecap="round" fill="none"/>
<path d="M86.9 492.7 L649.5 233.5" stroke="#1414e0" stroke-width="2.4" stroke-dasharray="17.2 18.9" fill="none"/>
<text x="507" y="344.9" font-size="17.25" text-anchor="start" fill="#2424e4">y = 0.7565x + 0.1381</text>
<text x="507" y="366.8" font-size="17.25" text-anchor="start" fill="#2424e4">R<tspan font-size="9" dy="-4.6" dx="0.6">2</tspan><tspan dy="4.6"> = 0.936</tspan></text>
<text x="0" y="595.6" font-size="25" text-anchor="start" fill="#000000">(c)</text>
<path d="M68.2 616.4 V719.8 M50 719.8 H68.2 M50 685.3 H68.2 M50 650.9 H68.2 M50 616.4 H68.2 M59.3 702.6 H68.2 M59.3 668.1 H68.2 M59.3 633.7 H68.2 M68.2 719.8 H738.6 M68.2 719.8 V737.8 M152 719.8 V728.5 M235.8 719.8 V737.8 M319.6 719.8 V728.5 M403.4 719.8 V737.8 M487.2 719.8 V728.5 M571 719.8 V737.8 M654.8 719.8 V728.5 M738.6 719.8 V737.8" stroke="#5f5f5f" stroke-width="1.4" fill="none"/>
<text x="40.9" y="723.7" font-size="12.5" text-anchor="end" fill="#000000">0</text>
<text x="40.9" y="689.2" font-size="12.5" text-anchor="end" fill="#000000">1</text>
<text x="40.9" y="654.8" font-size="12.5" text-anchor="end" fill="#000000">2</text>
<text x="40.9" y="620.3" font-size="12.5" text-anchor="end" fill="#000000">3</text>
<text x="68.2" y="758.1" font-size="12.5" text-anchor="middle" fill="#000000">3/30/04</text>
<text x="235.8" y="758.1" font-size="12.5" text-anchor="middle" fill="#000000">4/3/04</text>
<text x="403.4" y="758.1" font-size="12.5" text-anchor="middle" fill="#000000">4/7/04</text>
<text x="571" y="758.1" font-size="12.5" text-anchor="middle" fill="#000000">4/11/04</text>
<text x="738.6" y="758.1" font-size="12.5" text-anchor="middle" fill="#000000">4/15/04</text>
<text x="0" y="0" font-size="15" text-anchor="middle" fill="#000000" transform="translate(19.7 665.5) rotate(-90)">Sea Level (m)</text>
<text x="351.9" y="775.5" font-size="15.2" text-anchor="start" fill="#000000">Date (dd/mm/yy)</text>
<path d="M151 694.7 152.7 694.7 154.5 694.1 156.2 690.6 158 684.6 159.7 677.2 161.5 670.2 163.2 664.8 165 662.3 166.7 663 168.5 665.9 170.2 669.7 171.9 672.6 173.7 673.4 175.4 672.1 177.2 669.3 178.9 665.9 180.7 663 182.4 661.3 184.2 661.7 185.9 665.3 187.7 671.7 189.4 679.7 191.2 687.7 192.9 694.2 194.6 698 196.4 698.4 198.1 695.6 199.9 690.2 201.6 683.2 203.4 676 205.1 669.9 206.9 666.1 208.6 665.2 210.4 667.8 212.1 673 213.8 678.9 215.6 683.3 217.3 684.6 219.1 682.6 220.8 677.8 222.6 671.6 224.3 665.6 226.1 661.5 227.8 660.2 229.6 662.8 231.3 668.8 233.1 677 234.8 685.5 236.5 692.5 238.3 696.3 240 696.2 241.8 692.1 243.5 684.8 245.3 675.9 247 666.9 248.8 659.7 250.5 655.7 252.3 655.7 254 659.6 255.8 666.2 257.5 673.5 259.2 679.5 261 682.2 262.7 680.8 264.5 675.6 266.2 668 268 659.9 269.7 653.6 271.5 650.7 273.2 652.3 275 658.5 276.7 667.8 278.4 677.9 280.2 686.1 281.9 690.5 283.7 690 285.4 685 287.2 676.6 288.9 666.8 290.7 657.6 292.4 651 294.2 648.6 295.9 651.3 297.6 658.8 299.4 668.6 301.1 677.7 302.9 682.9 304.6 682.9 306.4 678.2 308.1 670.1 309.9 660.4 311.6 651.4 313.4 645.1 315.1 643.1 316.9 646.1 318.6 653.8 320.3 664.3 322.1 675.3 323.8 684.2 325.6 689 327.3 688.4 329.1 682.1 330.8 671.7 332.6 659.7 334.3 649.2 336.1 642.9 337.8 642.3 339.6 648 341.3 658.5 343 671.3 344.8 683.2 346.5 691.2 348.3 693.4 350 689.3 351.8 680 353.5 667.8 355.3 655.5 357 646.3 358.8 642.4 360.5 644.5 362.2 651.9 364 662.5 365.7 673.3 367.5 681 369.2 683.5 371 681 372.7 674.5 374.5 665.7 376.2 656.6 378 649.4 379.7 645.7 381.4 646.8 383.2 653.6 384.9 664.8 386.7 677.5 388.4 688.7 390.2 695.8 391.9 697 393.7 691.3 395.4 679.9 397.2 665.8 398.9 652.7 400.7 644 402.4 642 404.1 646.9 405.9 657.2 407.6 670 409.4 681.4 411.1 688.4 412.9 688.9 414.6 683.4 416.4 673.6 418.1 662 419.9 651.5 421.6 644.8 423.4 643.8 425.1 649.6 426.8 661.2 428.6 675.9 430.3 690.3 432.1 701.2 433.8 705.9 435.6 703.4 437.3 694.1 439.1 680.3 440.8 665.1 442.6 652.2 444.3 644.6 446 644 447.8 650 449.5 660.5 451.3 672.5 453 682.2 454.8 686.7 456.5 685 458.3 678.1 460 667.9 461.8 657 463.5 648.4 465.2 644.2 467 645.9 468.7 654.2 470.5 667.3 472.2 682.5 474 696.4 475.7 706.3 477.5 709.9 479.2 706.7 481 697.5 482.7 684.3 484.5 669.9 486.2 657.4 487.9 649.3 489.7 647.5 491.4 651.8 493.2 660.8 494.9 671.3 496.7 679.8 498.4 683.5 500.2 681.1 501.9 673.3 503.7 662.3 505.4 651.3 507.1 643.3 508.9 640.6 510.6 644.4 512.4 654.3 514.1 668.2 515.9 683 517.6 695.6 519.4 703.2 521.1 704.3 522.9 699.4 524.6 689.7 526.4 677.2 528.1 664.3 529.8 653.8 531.6 647.7 533.3 647.2 535.1 652.1 536.8 660.5 538.6 669 540.3 674.3 542.1 674.5 543.8 670.8 545.6 664.4 547.3 657.2 549 651.2 550.8 648.2 552.5 649.4 554.3 656 556 666.6 557.8 679.2 559.5 691.3 561.3 700.6 563 705.3 564.8 704.6 566.5 699.6 568.3 691.2 570 681.2 571.7 671.3 573.5 663.4 575.2 659.1 577 659.1 578.7 663.2 580.5 669.9 582.2 676.3 584 679.9 585.7 679.5 587.5 675.4 589.2 668.9 591 661.5 592.7 655.4 594.4 652 596.2 652.5 597.9 658.2 599.7 668.1 601.4 680.3 603.2 692.4 604.9 702.1 606.7 707.3 608.4 707.4 610.2 703.1 611.9 695.3 613.6 685.3 615.4 674.9 617.1 665.8 618.9 659.5 620.6 657.2 622.4 659.4 624.1 665.2 625.9 671.6 627.6 675.4 629.4 674.9 631.1 671.4 632.9 665.8 634.6 659.9 636.3 655.4 638.1 653.6 639.8 655.7 641.6 662 643.3 671.5 645.1 682.4 646.8 692.7 648.6 700.5 650.3 704.4 652.1 704 653.8 700.5 655.5 694.7 657.3 687.4 659 679.7 660.8 673 662.5 668.4 664.3 666.4 666 667.9 667.8 672.6 669.5 678 671.3 681.5 673 681.3 674.8 678.1 676.5 672.7 678.2 666.6 680 661.5 681.7 658.6 683.5 658.9 685.2 663.1 687 670.4 688.7 679.5 690.5 688.8 692.2 696.6 694 701.5 695.7 702.6 697.4 700.2 699.2 694.8 700.9 687.5 702.7 679.4 704.4 672 706.2 666.5 707.9 663.9 709.7 664.7 711.4 668.5 713.2 673.7 714.9 678 716.6 679.6 718.4 678.2 720.1 674.5 721.9 669.4 723.6 664.2 725.4 660.3 727.1 658.5 728.9 660 730.6 665.3 732.4 673.4 734.1 682.9 735.9 692 737.6 699" stroke="#ef5a66" stroke-width="1.8" fill="none" stroke-linejoin="round"/>
<path d="M151 694.7h0M152.7 694.7h0M154.5 694.1h0M156.2 690.6h0M158 684.6h0M159.7 677.2h0M161.5 670.2h0M163.2 664.8h0M165 662.3h0M166.7 663h0M168.5 665.9h0M170.2 669.7h0M171.9 672.6h0M173.7 673.4h0M175.4 672.1h0M177.2 669.3h0M178.9 665.9h0M180.7 663h0M182.4 661.3h0M184.2 661.7h0M185.9 665.3h0M187.7 671.7h0M189.4 679.7h0M191.2 687.7h0M192.9 694.2h0M194.6 698h0M196.4 698.4h0M198.1 695.6h0M199.9 690.2h0M201.6 683.2h0M203.4 676h0M205.1 669.9h0M206.9 666.1h0M208.6 665.2h0M210.4 667.8h0M212.1 673h0M213.8 678.9h0M215.6 683.3h0M217.3 684.6h0M219.1 682.6h0M220.8 677.8h0M222.6 671.6h0M224.3 665.6h0M226.1 661.5h0M227.8 660.2h0M229.6 662.8h0M231.3 668.8h0M233.1 677h0M234.8 685.5h0M236.5 692.5h0M238.3 696.3h0M240 696.2h0M241.8 692.1h0M243.5 684.8h0M245.3 675.9h0M247 666.9h0M248.8 659.7h0M250.5 655.7h0M252.3 655.7h0M254 659.6h0M255.8 666.2h0M257.5 673.5h0M259.2 679.5h0M261 682.2h0M262.7 680.8h0M264.5 675.6h0M266.2 668h0M268 659.9h0M269.7 653.6h0M271.5 650.7h0M273.2 652.3h0M275 658.5h0M276.7 667.8h0M278.4 677.9h0M280.2 686.1h0M281.9 690.5h0M283.7 690h0M285.4 685h0M287.2 676.6h0M288.9 666.8h0M290.7 657.6h0M292.4 651h0M294.2 648.6h0M295.9 651.3h0M297.6 658.8h0M299.4 668.6h0M301.1 677.7h0M302.9 682.9h0M304.6 682.9h0M306.4 678.2h0M308.1 670.1h0M309.9 660.4h0M311.6 651.4h0M313.4 645.1h0M315.1 643.1h0M316.9 646.1h0M318.6 653.8h0M320.3 664.3h0M322.1 675.3h0M323.8 684.2h0M325.6 689h0M327.3 688.4h0M329.1 682.1h0M330.8 671.7h0M332.6 659.7h0M334.3 649.2h0M336.1 642.9h0M337.8 642.3h0M339.6 648h0M341.3 658.5h0M343 671.3h0M344.8 683.2h0M346.5 691.2h0M348.3 693.4h0M350 689.3h0M351.8 680h0M353.5 667.8h0M355.3 655.5h0M357 646.3h0M358.8 642.4h0M360.5 644.5h0M362.2 651.9h0M364 662.5h0M365.7 673.3h0M367.5 681h0M369.2 683.5h0M371 681h0M372.7 674.5h0M374.5 665.7h0M376.2 656.6h0M378 649.4h0M379.7 645.7h0M381.4 646.8h0M383.2 653.6h0M384.9 664.8h0M386.7 677.5h0M388.4 688.7h0M390.2 695.8h0M391.9 697h0M393.7 691.3h0M395.4 679.9h0M397.2 665.8h0M398.9 652.7h0M400.7 644h0M402.4 642h0M404.1 646.9h0M405.9 657.2h0M407.6 670h0M409.4 681.4h0M411.1 688.4h0M412.9 688.9h0M414.6 683.4h0M416.4 673.6h0M418.1 662h0M419.9 651.5h0M421.6 644.8h0M423.4 643.8h0M425.1 649.6h0M426.8 661.2h0M428.6 675.9h0M430.3 690.3h0M432.1 701.2h0M433.8 705.9h0M435.6 703.4h0M437.3 694.1h0M439.1 680.3h0M440.8 665.1h0M442.6 652.2h0M444.3 644.6h0M446 644h0M447.8 650h0M449.5 660.5h0M451.3 672.5h0M453 682.2h0M454.8 686.7h0M456.5 685h0M458.3 678.1h0M460 667.9h0M461.8 657h0M463.5 648.4h0M465.2 644.2h0M467 645.9h0M468.7 654.2h0M470.5 667.3h0M472.2 682.5h0M474 696.4h0M475.7 706.3h0M477.5 709.9h0M479.2 706.7h0M481 697.5h0M482.7 684.3h0M484.5 669.9h0M486.2 657.4h0M487.9 649.3h0M489.7 647.5h0M491.4 651.8h0M493.2 660.8h0M494.9 671.3h0M496.7 679.8h0M498.4 683.5h0M500.2 681.1h0M501.9 673.3h0M503.7 662.3h0M505.4 651.3h0M507.1 643.3h0M508.9 640.6h0M510.6 644.4h0M512.4 654.3h0M514.1 668.2h0M515.9 683h0M517.6 695.6h0M519.4 703.2h0M521.1 704.3h0M522.9 699.4h0M524.6 689.7h0M526.4 677.2h0M528.1 664.3h0M529.8 653.8h0M531.6 647.7h0M533.3 647.2h0M535.1 652.1h0M536.8 660.5h0M538.6 669h0M540.3 674.3h0M542.1 674.5h0M543.8 670.8h0M545.6 664.4h0M547.3 657.2h0M549 651.2h0M550.8 648.2h0M552.5 649.4h0M554.3 656h0M556 666.6h0M557.8 679.2h0M559.5 691.3h0M561.3 700.6h0M563 705.3h0M564.8 704.6h0M566.5 699.6h0M568.3 691.2h0M570 681.2h0M571.7 671.3h0M573.5 663.4h0M575.2 659.1h0M577 659.1h0M578.7 663.2h0M580.5 669.9h0M582.2 676.3h0M584 679.9h0M585.7 679.5h0M587.5 675.4h0M589.2 668.9h0M591 661.5h0M592.7 655.4h0M594.4 652h0M596.2 652.5h0M597.9 658.2h0M599.7 668.1h0M601.4 680.3h0M603.2 692.4h0M604.9 702.1h0M606.7 707.3h0M608.4 707.4h0M610.2 703.1h0M611.9 695.3h0M613.6 685.3h0M615.4 674.9h0M617.1 665.8h0M618.9 659.5h0M620.6 657.2h0M622.4 659.4h0M624.1 665.2h0M625.9 671.6h0M627.6 675.4h0M629.4 674.9h0M631.1 671.4h0M632.9 665.8h0M634.6 659.9h0M636.3 655.4h0M638.1 653.6h0M639.8 655.7h0M641.6 662h0M643.3 671.5h0M645.1 682.4h0M646.8 692.7h0M648.6 700.5h0M650.3 704.4h0M652.1 704h0M653.8 700.5h0M655.5 694.7h0M657.3 687.4h0M659 679.7h0M660.8 673h0M662.5 668.4h0M664.3 666.4h0M666 667.9h0M667.8 672.6h0M669.5 678h0M671.3 681.5h0M673 681.3h0M674.8 678.1h0M676.5 672.7h0M678.2 666.6h0M680 661.5h0M681.7 658.6h0M683.5 658.9h0M685.2 663.1h0M687 670.4h0M688.7 679.5h0M690.5 688.8h0M692.2 696.6h0M694 701.5h0M695.7 702.6h0M697.4 700.2h0M699.2 694.8h0M700.9 687.5h0M702.7 679.4h0M704.4 672h0M706.2 666.5h0M707.9 663.9h0M709.7 664.7h0M711.4 668.5h0M713.2 673.7h0M714.9 678h0M716.6 679.6h0M718.4 678.2h0M720.1 674.5h0M721.9 669.4h0M723.6 664.2h0M725.4 660.3h0M727.1 658.5h0M728.9 660h0M730.6 665.3h0M732.4 673.4h0M734.1 682.9h0M735.9 692h0M737.6 699h0" stroke="#ef5a66" stroke-width="4.2" stroke-linecap="round" fill="none"/>
<path d="M152.7 691.5 154.5 688.8 156.2 683.6 158 676.8 159.7 669.8 161.5 663.7 163.2 659.7 165 658.5 166.7 660.1 168.5 664 170.2 668.5 171.9 672 173.7 673.1 175.4 671.9 177.2 669.1 178.9 665.6 180.7 662.4 182.4 660.6 184.2 660.9 185.9 664.3 187.7 670.1 189.4 677.3 191.2 684.4 192.9 690.1 194.6 693.2 196.4 693.2 198.1 689.9 199.9 684.1 201.6 676.9 203.4 669.7 205.1 663.9 206.9 660.8 208.6 661 210.4 665.2 212.1 671.7 213.8 678.1 215.6 681.8 217.3 681.6 219.1 678.2 220.8 672.7 222.6 666.4 224.3 660.9 226.1 657.6 227.8 657.4 229.6 661.3 231.3 668.6 233.1 677.5 234.8 685.9 236.5 691.8 238.3 693.7 240 691.7 241.8 686.2 243.5 678.4 245.3 669.6 247 661.5 248.8 655.6 250.5 652.9 252.3 654.2 254 659.7 255.8 667.7 257.5 675.6 259.2 680.9 261 682 262.7 679.3 264.5 673.5 266.2 666.2 268 658.8 269.7 653.2 271.5 650.5 273.2 651.7 275 657.1 276.7 665.6 278.4 675.4 280.2 684.5 281.9 691 283.7 693.6 285.4 690.7 287.2 682.2 288.9 670.3 290.7 658.4 292.4 650 294.2 647.3 295.9 650.8 297.6 659.1 299.4 669.4 301.1 678 302.9 682.1 304.6 680.8 306.4 675.8 308.1 668 309.9 659.1 311.6 650.9 313.4 644.9 315.1 642.5 316.9 644.5 318.6 651.1 320.3 661 322.1 672.1 323.8 682.2 325.6 689.2 327.3 691.6 329.1 687.6 330.8 676.9 332.6 662.9 334.3 649.9 336.1 641.7 337.8 640.8 339.6 646.9 341.3 658 343 671.2 344.8 682.8 346.5 689.8 348.3 690.2 350 684.3 351.8 673.6 353.5 660.8 355.3 648.9 357 641.1 358.8 639.2 360.5 643.5 362.2 653 364 665 365.7 676.3 367.5 684 369.2 686 371 682.5 372.7 674.6 374.5 664.4 376.2 654.3 378 646.9 379.7 644.1 381.4 646.9 383.2 655.4 384.9 667.5 386.7 680.2 388.4 690.4 390.2 695.8 391.9 694.7 393.7 687.1 395.4 674.8 397.2 660.8 398.9 648.4 400.7 640.8 402.4 639.7 404.1 646 405.9 657.9 407.6 671.8 409.4 683.6 411.1 689.7 412.9 688.7 414.6 681.9 416.4 671.1 418.1 658.8 419.9 648.3 421.6 642 423.4 641.7 425.1 648.5 426.8 661.1 428.6 676.6 430.3 691.4 432.1 702 433.8 706.1 435.6 702.6 437.3 692.4 439.1 677.7 440.8 661.9 442.6 648.6 444.3 640.8 446 640.2 447.8 646.4 449.5 657.7 451.3 670.8 453 682.3 454.8 688.8 456.5 688.7 458.3 682.4 460 671.6 461.8 659.3 463.5 648.6 465.2 642.6 467 642.8 468.7 650.4 470.5 663.7 472.2 679.6 474 694.3 475.7 704.4 477.5 707.5 479.2 703.3 481 692.9 482.7 678.6 484.5 663.7 486.2 651.5 487.9 644.6 489.7 644.5 491.4 650.2 493.2 659.9 494.9 670.9 496.7 680 498.4 684.8 500.2 683.5 501.9 675.9 503.7 664 505.4 651.4 507.1 642 508.9 638.5 510.6 642.2 512.4 652.5 514.1 667.2 515.9 683 517.6 696.7 519.4 705.2 521.1 706.8 522.9 701.4 524.6 690.4 526.4 676.2 528.1 661.6 529.8 649.9 531.6 643.5 533.3 643.6 535.1 649.4 536.8 658.7 538.6 668.4 540.3 675.3 542.1 677.1 543.8 674.2 545.6 668 547.3 660.1 549 652.6 550.8 647.6 552.5 646.4 554.3 651.1 556 661.6 557.8 675.2 559.5 689 561.3 699.5 563 704.4 564.8 703.1 566.5 697.3 568.3 688 570 677.1 571.7 666.4 573.5 658 575.2 653.4 577 653.5 578.7 658.8 580.5 667.1 582.2 674.9 584 679 585.7 678 587.5 673.5 589.2 666.6 591 659.1 592.7 653 594.4 649.9 596.2 651.1 597.9 657.9 599.7 668.8 601.4 681.6 603.2 693.5 604.9 701.9 606.7 705 608.4 702.9 610.2 696.7 611.9 687.4 613.6 676.6 615.4 666 617.1 657.5 618.9 652.3 620.6 651.6 622.4 656.8 624.1 666 625.9 674.2 627.6 677.2 629.4 675.2 631.1 670.2 632.9 663.5 634.6 657 636.3 652.3 638.1 650.7 639.8 653.5 641.6 660.9 643.3 671.4 645.1 682.8 646.8 692.9 648.6 699.6 650.3 701.5 652.1 699.6 653.8 694.7 655.5 687.7 657.3 679.6 659 671.8 660.8 665.4 662.5 661.4 664.3 660.6 666 664.7 667.8 672.1 669.5 678.5 671.3 680 673 677.7 674.8 673 676.5 667 678.2 661.1 680 656.7 681.7 654.9 683.5 656.8 685.2 662.8 687 671.7 688.7 681.7 690.5 690.7 692.2 696.7 694 698.6 695.7 696.7 697.4 692.1 699.2 685.3 700.9 677.5 702.7 670 704.4 663.9 706.2 660.2 707.9 659.6 709.7 662.4 711.4 667.6 713.2 673.2 714.9 677.1 716.6 677.8 718.4 675.2 720.1 670.2 721.9 664.2 723.6 658.8 725.4 655.6 727.1 655.6 728.9 658.8 730.6 664.8 732.4 672.5 734.1 680.4 735.9 687 737.6 691.3" stroke="#1c1c1c" stroke-width="1.0" fill="none" stroke-linejoin="round"/>
<path d="M80.5 608.5H139.5" stroke="#111" stroke-width="1.5"/>
<path d="M80.5 623.6H139.5" stroke="#ef5a66" stroke-width="1.8"/><path d="M100 623.6h0M121.8 623.6h0" stroke="#ef5a66" stroke-width="4.6" stroke-linecap="round"/>
<text x="145" y="612.8" font-size="12.5" text-anchor="start" fill="#000000">Temporary Station - Reconstruction</text>
<text x="145" y="627.9" font-size="12.5" text-anchor="start" fill="#000000">Temporary Station - Observation</text>
</svg>
</body></html>
